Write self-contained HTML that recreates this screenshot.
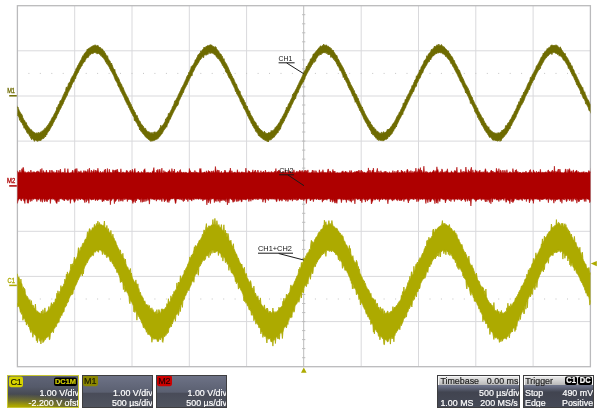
<!DOCTYPE html>
<html><head><meta charset="utf-8"><title>Oscilloscope</title>
<style>
html,body{margin:0;padding:0;background:#fff;}
body{width:600px;height:413px;position:relative;overflow:hidden;font-family:"Liberation Sans",Arial,sans-serif;}
svg text{font-family:"Liberation Sans",Arial,sans-serif;}
.p{position:absolute;top:375px;height:33px;box-sizing:border-box;border:1px solid #3e3e40;overflow:hidden;color:#fff;font-size:8.9px;line-height:10px;
background:linear-gradient(#6d7286 0%,#5b6071 52%,#494c59 56%,#50545f 100%);}
.p span{position:absolute;white-space:nowrap;transform:scaleY(1.07);transform-origin:0 80%;-webkit-text-stroke:0.2px currentColor;}
.r{right:-0.5px;}
.l{left:2px;}
.t1{top:-0.3px;}
.t2{top:11.6px;}
.t3{top:22.4px;}
.bd{height:9.8px;line-height:10px;font-size:9px;border-radius:2px;text-align:center;color:#1c1c00;}
#c1{left:7.4px;width:72px;border-color:#c9c734;background:radial-gradient(ellipse 125% 48% at 8% 106%,#b8b000 0%,#aaa400 22%,rgba(150,146,20,0.6) 55%,rgba(120,118,40,0) 100%),linear-gradient(#5f6477 0%,#555a6a 35%,#464952 60%,#44464e 100%);}
#m1{left:81.5px;width:71.6px;}
#m2{left:155.7px;width:71.8px;}
#tb{left:437.4px;width:82.8px;}
#tr{left:522.6px;width:71px;}
.hd{position:absolute;left:0;right:0;top:0;height:9.3px;background:linear-gradient(#e8e8e8,#b8b8b8);border:1px solid #f6f6f6;border-bottom:none;box-sizing:border-box;}
.q{background:linear-gradient(#6d7389 0%,#6d7389 32%,#575c6d 42%,#414450 52%,#454956 100%);}
.k{top:0.9px;height:8px;line-height:8.4px;font-size:7.6px;font-weight:bold;background:#000;color:#fff;border-radius:2px;text-align:center;}
.d{color:#1e1e1e;}
</style></head><body>
<svg width="600" height="413" viewBox="0 0 600 413" style="position:absolute;left:0;top:0">
<defs><clipPath id="gc"><rect x="17.4" y="5.7" width="573.0" height="361.0"/></clipPath></defs>
<path d="M74.7 5.7V366.7M132 5.7V366.7M189.3 5.7V366.7M246.6 5.7V366.7M361.2 5.7V366.7M418.5 5.7V366.7M475.8 5.7V366.7M533.1 5.7V366.7M17.4 50.8H590.4M17.4 96H590.4M17.4 141.1H590.4M17.4 186.2H590.4M17.4 231.3H590.4M17.4 276.4H590.4M17.4 321.6H590.4" stroke="#d9d9dc" stroke-width="1" fill="none"/>
<path d="M303.7 5.7V366.7M302.1 14.7H305.3M302.1 23.8H305.3M302.1 32.8H305.3M302.1 41.8H305.3M302.1 50.8H305.3M302.1 59.9H305.3M302.1 68.9H305.3M302.1 77.9H305.3M302.1 86.9H305.3M302.1 96H305.3M302.1 105H305.3M302.1 114H305.3M302.1 123H305.3M302.1 132H305.3M302.1 141.1H305.3M302.1 150.1H305.3M302.1 159.1H305.3M302.1 168.1H305.3M302.1 177.2H305.3M302.1 186.2H305.3M302.1 195.2H305.3M302.1 204.2H305.3M302.1 213.3H305.3M302.1 222.3H305.3M302.1 231.3H305.3M302.1 240.3H305.3M302.1 249.4H305.3M302.1 258.4H305.3M302.1 267.4H305.3M302.1 276.4H305.3M302.1 285.5H305.3M302.1 294.5H305.3M302.1 303.5H305.3M302.1 312.6H305.3M302.1 321.6H305.3M302.1 330.6H305.3M302.1 339.6H305.3M302.1 348.6H305.3M302.1 357.7H305.3" stroke="#bcbcbc" stroke-width="1" fill="none"/>
<g fill="#c4c4c4"><rect x="28.4" y="72.9" width="1" height="1"/><rect x="39.8" y="72.9" width="1" height="1"/><rect x="51.3" y="72.9" width="1" height="1"/><rect x="62.7" y="72.9" width="1" height="1"/><rect x="74.2" y="72.9" width="1" height="1"/><rect x="85.7" y="72.9" width="1" height="1"/><rect x="97.1" y="72.9" width="1" height="1"/><rect x="108.6" y="72.9" width="1" height="1"/><rect x="120" y="72.9" width="1" height="1"/><rect x="131.5" y="72.9" width="1" height="1"/><rect x="143" y="72.9" width="1" height="1"/><rect x="154.4" y="72.9" width="1" height="1"/><rect x="165.9" y="72.9" width="1" height="1"/><rect x="177.3" y="72.9" width="1" height="1"/><rect x="188.8" y="72.9" width="1" height="1"/><rect x="200.3" y="72.9" width="1" height="1"/><rect x="211.7" y="72.9" width="1" height="1"/><rect x="223.2" y="72.9" width="1" height="1"/><rect x="234.6" y="72.9" width="1" height="1"/><rect x="246.1" y="72.9" width="1" height="1"/><rect x="257.6" y="72.9" width="1" height="1"/><rect x="269" y="72.9" width="1" height="1"/><rect x="280.5" y="72.9" width="1" height="1"/><rect x="291.9" y="72.9" width="1" height="1"/><rect x="303.4" y="72.9" width="1" height="1"/><rect x="314.9" y="72.9" width="1" height="1"/><rect x="326.3" y="72.9" width="1" height="1"/><rect x="337.8" y="72.9" width="1" height="1"/><rect x="349.2" y="72.9" width="1" height="1"/><rect x="360.7" y="72.9" width="1" height="1"/><rect x="372.2" y="72.9" width="1" height="1"/><rect x="383.6" y="72.9" width="1" height="1"/><rect x="395.1" y="72.9" width="1" height="1"/><rect x="406.5" y="72.9" width="1" height="1"/><rect x="418" y="72.9" width="1" height="1"/><rect x="429.5" y="72.9" width="1" height="1"/><rect x="440.9" y="72.9" width="1" height="1"/><rect x="452.4" y="72.9" width="1" height="1"/><rect x="463.8" y="72.9" width="1" height="1"/><rect x="475.3" y="72.9" width="1" height="1"/><rect x="486.8" y="72.9" width="1" height="1"/><rect x="498.2" y="72.9" width="1" height="1"/><rect x="509.7" y="72.9" width="1" height="1"/><rect x="521.1" y="72.9" width="1" height="1"/><rect x="532.6" y="72.9" width="1" height="1"/><rect x="544.1" y="72.9" width="1" height="1"/><rect x="555.5" y="72.9" width="1" height="1"/><rect x="567" y="72.9" width="1" height="1"/><rect x="578.4" y="72.9" width="1" height="1"/><rect x="28.4" y="298.5" width="1" height="1"/><rect x="39.8" y="298.5" width="1" height="1"/><rect x="51.3" y="298.5" width="1" height="1"/><rect x="62.7" y="298.5" width="1" height="1"/><rect x="74.2" y="298.5" width="1" height="1"/><rect x="85.7" y="298.5" width="1" height="1"/><rect x="97.1" y="298.5" width="1" height="1"/><rect x="108.6" y="298.5" width="1" height="1"/><rect x="120" y="298.5" width="1" height="1"/><rect x="131.5" y="298.5" width="1" height="1"/><rect x="143" y="298.5" width="1" height="1"/><rect x="154.4" y="298.5" width="1" height="1"/><rect x="165.9" y="298.5" width="1" height="1"/><rect x="177.3" y="298.5" width="1" height="1"/><rect x="188.8" y="298.5" width="1" height="1"/><rect x="200.3" y="298.5" width="1" height="1"/><rect x="211.7" y="298.5" width="1" height="1"/><rect x="223.2" y="298.5" width="1" height="1"/><rect x="234.6" y="298.5" width="1" height="1"/><rect x="246.1" y="298.5" width="1" height="1"/><rect x="257.6" y="298.5" width="1" height="1"/><rect x="269" y="298.5" width="1" height="1"/><rect x="280.5" y="298.5" width="1" height="1"/><rect x="291.9" y="298.5" width="1" height="1"/><rect x="303.4" y="298.5" width="1" height="1"/><rect x="314.9" y="298.5" width="1" height="1"/><rect x="326.3" y="298.5" width="1" height="1"/><rect x="337.8" y="298.5" width="1" height="1"/><rect x="349.2" y="298.5" width="1" height="1"/><rect x="360.7" y="298.5" width="1" height="1"/><rect x="372.2" y="298.5" width="1" height="1"/><rect x="383.6" y="298.5" width="1" height="1"/><rect x="395.1" y="298.5" width="1" height="1"/><rect x="406.5" y="298.5" width="1" height="1"/><rect x="418" y="298.5" width="1" height="1"/><rect x="429.5" y="298.5" width="1" height="1"/><rect x="440.9" y="298.5" width="1" height="1"/><rect x="452.4" y="298.5" width="1" height="1"/><rect x="463.8" y="298.5" width="1" height="1"/><rect x="475.3" y="298.5" width="1" height="1"/><rect x="486.8" y="298.5" width="1" height="1"/><rect x="498.2" y="298.5" width="1" height="1"/><rect x="509.7" y="298.5" width="1" height="1"/><rect x="521.1" y="298.5" width="1" height="1"/><rect x="532.6" y="298.5" width="1" height="1"/><rect x="544.1" y="298.5" width="1" height="1"/><rect x="555.5" y="298.5" width="1" height="1"/><rect x="567" y="298.5" width="1" height="1"/><rect x="578.4" y="298.5" width="1" height="1"/></g>
<rect x="17.4" y="5.7" width="573" height="361" fill="none" stroke="#bababc" stroke-width="1.3"/>
<g clip-path="url(#gc)">
<polygon points="16.4 105 16.8 105.8 17.2 106.5 17.6 107.7 18 107 18.4 109.3 18.8 109.3 19.2 110.6 19.6 111.5 20 111.7 20.4 113.2 20.8 113.2 21.2 114.9 21.6 113.9 22 115.7 22.4 115.6 22.8 117.8 23.2 118.2 23.6 119.3 24 119.9 24.4 120.6 24.8 120.6 25.2 122 25.6 122.6 26 123.3 26.4 122.6 26.8 124.6 27.2 125.2 27.6 125.8 28 126.2 28.4 126.9 28.8 127.2 29.2 128 29.6 128.2 30 129.1 30.4 129.4 30.8 129.8 31.2 129.8 31.6 129.7 32 130.8 32.4 131.4 32.8 131.2 33.2 131.9 33.6 132.1 34 132.2 34.4 132.8 34.8 132.5 35.2 133 35.6 133.4 36 132.9 36.4 132.9 36.8 133.6 37.2 132.7 37.6 133.4 38 133.5 38.4 133.3 38.8 132.2 39.2 133.3 39.6 133.1 40 132.9 40.4 133 40.8 131.7 41.2 132.5 41.6 132.1 42 130.7 42.4 131 42.8 131.3 43.2 130.7 43.6 129.7 44 130.3 44.4 129.7 44.8 128.2 45.2 128.5 45.6 128.5 46 127.7 46.4 126.7 46.8 126.7 47.2 126.4 47.6 125.2 48 124.7 48.4 124.4 48.8 123.7 49.2 123.1 49.6 122.6 50 121.3 50.4 121.3 50.8 120.7 51.2 119.3 51.6 119.3 52 117.5 52.4 117.6 52.8 117 53.2 116.3 53.6 115.5 54 114.4 54.4 113.8 54.8 113.1 55.2 112.4 55.6 111.4 56 110.8 56.4 110 56.8 107.3 57.2 107.9 57.6 107.5 58 105.9 58.4 104.5 58.8 104.9 59.2 103.6 59.6 103.5 60 100.8 60.4 100.6 60.8 100.9 61.2 100.3 61.6 99.2 62 98.6 62.4 97.1 62.8 96.8 63.2 95.4 63.6 94.6 64 93.5 64.4 93.4 64.8 91.9 65.2 91.9 65.6 90.7 66 88.3 66.4 86.9 66.8 88.4 67.2 87.8 67.6 86.7 68 85.7 68.4 83.5 68.8 84.4 69.2 82.4 69.6 82.6 70 81.8 70.4 81.1 70.8 79.3 71.2 78.2 71.6 78.4 72 76.6 72.4 76.3 72.8 75.9 73.2 75.3 73.6 74.4 74 73.4 74.4 72.8 74.8 71.7 75.2 70.9 75.6 70.4 76 68.4 76.4 68.4 76.8 68 77.2 67.1 77.6 65.9 78 65 78.4 64.7 78.8 63.7 79.2 62.8 79.6 62.6 80 61.5 80.4 60.5 80.8 60.4 81.2 59.6 81.6 58.8 82 57.2 82.4 56.9 82.8 55.7 83.2 56.1 83.6 55.5 84 54.2 84.4 53.4 84.8 53.4 85.2 52.5 85.6 52.6 86 52.1 86.4 51.1 86.8 50.7 87.2 49 87.6 49.5 88 48.9 88.4 48.4 88.8 48.5 89.2 48.2 89.6 47.9 90 47.6 90.4 47.4 90.8 47.1 91.2 46.9 91.6 46.5 92 46.4 92.4 46.1 92.8 46 93.2 45.6 93.6 45.8 94 45.4 94.4 45.2 94.8 45.5 95.2 45.6 95.6 44.8 96 45.6 96.4 45.9 96.8 45.9 97.2 45.8 97.6 45.4 98 45.3 98.4 46.3 98.8 46.7 99.2 46.9 99.6 47.4 100 47 100.4 47.5 100.8 48.4 101.2 48.4 101.6 49.1 102 49.5 102.4 48.8 102.8 49.8 103.2 50.6 103.6 50.8 104 52 104.4 51.5 104.8 52.6 105.2 52.9 105.6 53.7 106 54.8 106.4 55.3 106.8 56.2 107.2 56.7 107.6 55.7 108 58.2 108.4 59 108.8 59.5 109.2 60.4 109.6 60.8 110 60.8 110.4 62.6 110.8 63.3 111.2 63.8 111.6 63 112 65.2 112.4 65.3 112.8 67 113.2 67.9 113.6 68.8 114 69.3 114.4 69.9 114.8 69.3 115.2 71.8 115.6 72.6 116 73.7 116.4 74.1 116.8 75.3 117.2 76 117.6 76.9 118 77.8 118.4 77.8 118.8 78.9 119.2 79.6 119.6 81.2 120 82 120.4 82.6 120.8 83.5 121.2 84.2 121.6 84.3 122 85.9 122.4 86.9 122.8 87.8 123.2 87.6 123.6 89 124 90.2 124.4 91.1 124.8 91.8 125.2 92.7 125.6 93.5 126 94.2 126.4 95.2 126.8 96 127.2 96.6 127.6 97.8 128 97.5 128.4 99 128.8 100 129.2 100.8 129.6 101.9 130 102.1 130.4 103.3 130.8 104.4 131.2 104.3 131.6 105.8 132 106.9 132.4 107 132.8 108.5 133.2 109.2 133.6 110.1 134 110.1 134.4 111.5 134.8 111.9 135.2 112.2 135.6 113.9 136 114.8 136.4 115.5 136.8 116.1 137.2 115.4 137.6 117.4 138 117.7 138.4 119.1 138.8 119.9 139.2 120.7 139.6 121.3 140 121.2 140.4 122.3 140.8 123.3 141.2 123.9 141.6 124.5 142 125.3 142.4 124.9 142.8 126.4 143.2 126 143.6 127.5 144 127.6 144.4 128 144.8 128.9 145.2 128.6 145.6 128.3 146 130.3 146.4 129.9 146.8 130.9 147.2 131.3 147.6 131.6 148 132 148.4 132.3 148.8 131.4 149.2 132.6 149.6 132.8 150 132.2 150.4 133.3 150.8 133.3 151.2 133.1 151.6 133.5 152 132.2 152.4 133.5 152.8 133.6 153.2 133.4 153.6 133.2 154 131.9 154.4 133.2 154.8 131.7 155.2 132.7 155.6 132.2 156 132.4 156.4 132.3 156.8 132 157.2 131.7 157.6 131.3 158 130.6 158.4 130.6 158.8 130 159.2 129.2 159.6 129 160 127.8 160.4 128.3 160.8 125.1 161.2 127 161.6 127 162 126.3 162.4 125.7 162.8 125.1 163.2 124.6 163.6 123.9 164 123.4 164.4 122.6 164.8 122 165.2 121.3 165.6 118.8 166 119.8 166.4 119 166.8 117.4 167.2 117.1 167.6 117.1 168 116.2 168.4 113.4 168.8 114.3 169.2 113.4 169.6 113.1 170 112.5 170.4 111.5 170.8 110.5 171.2 110 171.6 109.2 172 108.4 172.4 106.7 172.8 106.6 173.2 105.9 173.6 105 174 103.9 174.4 102.3 174.8 100.8 175.2 101.5 175.6 100.3 176 100.3 176.4 99 176.8 98.2 177.2 97.6 177.6 96.9 178 96 178.4 94.4 178.8 94.4 179.2 92.9 179.6 92.8 180 91.2 180.4 91.1 180.8 90 181.2 88.8 181.6 87.6 182 87.2 182.4 86.9 182.8 85.7 183.2 85.2 183.6 84.4 184 83.5 184.4 82.3 184.8 81.7 185.2 80.7 185.6 79.8 186 79.3 186.4 77.9 186.8 76.6 187.2 76.6 187.6 75.3 188 75.2 188.4 74.5 188.8 72.3 189.2 72.8 189.6 72 190 70.4 190.4 69.4 190.8 69.1 191.2 66.6 191.6 67.8 192 65.7 192.4 65.7 192.8 65.7 193.2 64.8 193.6 64.1 194 63.3 194.4 62.5 194.8 61.8 195.2 59.8 195.6 60.1 196 59.5 196.4 58.9 196.8 57.6 197.2 57.5 197.6 56.1 198 54.7 198.4 54.7 198.8 54.2 199.2 53.7 199.6 53.3 200 53.2 200.4 52.5 200.8 50.8 201.2 51.4 201.6 50.9 202 50.3 202.4 50.1 202.8 49.5 203.2 48.9 203.6 48.8 204 47 204.4 47.9 204.8 47.4 205.2 47.4 205.6 46.9 206 46.4 206.4 46.5 206.8 46 207.2 45.9 207.6 45.5 208 45.7 208.4 45.8 208.8 45.6 209.2 45.6 209.6 44.9 210 45.6 210.4 44.6 210.8 45 211.2 45.8 211.6 44.8 212 45.4 212.4 45.9 212.8 46.3 213.2 46.3 213.6 46.6 214 47 214.4 47.3 214.8 47.2 215.2 46.4 215.6 48.3 216 47.1 216.4 49.1 216.8 48.9 217.2 50 217.6 49.9 218 50.5 218.4 51.4 218.8 51.2 219.2 52.5 219.6 53.1 220 53.7 220.4 54 220.8 53.9 221.2 54.4 221.6 56 222 56.6 222.4 56.3 222.8 58.3 223.2 58.9 223.6 59.7 224 58.6 224.4 60.8 224.8 61.5 225.2 62.1 225.6 63.1 226 64.1 226.4 63.7 226.8 64.8 227.2 66.1 227.6 66.1 228 68 228.4 67.8 228.8 69.3 229.2 69.8 229.6 71.1 230 72 230.4 72.4 230.8 73.6 231.2 73.9 231.6 75.2 232 76.1 232.4 76.4 232.8 77.8 233.2 78.4 233.6 78.4 234 79.6 234.4 81 234.8 81.7 235.2 82.6 235.6 83.6 236 84.3 236.4 84 236.8 85.2 237.2 86.8 237.6 87.8 238 88.6 238.4 89.1 238.8 90.3 239.2 90.5 239.6 91.8 240 91.2 240.4 93.4 240.8 94.5 241.2 95.2 241.6 96.1 242 96.5 242.4 97.8 242.8 98.4 243.2 98.5 243.6 100 244 99.9 244.4 101.6 244.8 102.2 245.2 102.3 245.6 104.2 246 104.9 246.4 105.9 246.8 106.9 247.2 106.1 247.6 107.8 248 109.2 248.4 109.8 248.8 110.8 249.2 111.6 249.6 110.8 250 112.8 250.4 113.3 250.8 114.9 251.2 115.2 251.6 116.4 252 116.2 252.4 117.2 252.8 118 253.2 118.6 253.6 119.6 254 120.7 254.4 121 254.8 122 255.2 122.3 255.6 122.3 256 122.6 256.4 124.4 256.8 125 257.2 125.8 257.6 126.4 258 125.7 258.4 127.4 258.8 127.8 259.2 128.1 259.6 128.7 260 128.9 260.4 129.8 260.8 129.7 261.2 130.5 261.6 130.1 262 130.9 262.4 131.4 262.8 131.6 263.2 132.3 263.6 132.4 264 132 264.4 131.2 264.8 132.3 265.2 132.4 265.6 133.2 266 133.4 266.4 133 266.8 133.4 267.2 133 267.6 133.5 268 133.1 268.4 132.9 268.8 132.3 269.2 132.9 269.6 133.1 270 132.3 270.4 132.3 270.8 132.5 271.2 130.4 271.6 131.5 272 131.5 272.4 130.5 272.8 130.9 273.2 130.4 273.6 130.2 274 129.4 274.4 129.4 274.8 128.6 275.2 127.4 275.6 128 276 127.3 276.4 126.1 276.8 126.3 277.2 125.7 277.6 124.9 278 124.3 278.4 123.8 278.8 122.9 279.2 122.7 279.6 121.9 280 121.4 280.4 120.1 280.8 119.2 281.2 119.3 281.6 118.4 282 117.7 282.4 116.4 282.8 116.3 283.2 115.5 283.6 114.4 284 113.9 284.4 113 284.8 112.5 285.2 111.3 285.6 110.1 286 109.9 286.4 107.3 286.8 108.4 287.2 107.5 287.6 106.9 288 105.9 288.4 104 288.8 104 289.2 103.1 289.6 102.6 290 101.5 290.4 101 290.8 99.9 291.2 98.8 291.6 98.6 292 97.5 292.4 96.2 292.8 94.1 293.2 95.2 293.6 92.9 294 93.2 294.4 92.7 294.8 91.5 295.2 90.9 295.6 89.7 296 89.3 296.4 88.6 296.8 87.5 297.2 87 297.6 85.9 298 84.7 298.4 84.4 298.8 83.4 299.2 82.4 299.6 81.8 300 80.7 300.4 80.1 300.8 79.3 301.2 78.6 301.6 77.5 302 77 302.4 75.6 302.8 75.2 303.2 73.4 303.6 73.1 304 72 304.4 71.1 304.8 70.5 305.2 70.2 305.6 69.6 306 68.4 306.4 66.1 306.8 67.2 307.2 66 307.6 65.6 308 64.4 308.4 63.3 308.8 63.2 309.2 62.1 309.6 61.8 310 61.1 310.4 58.9 310.8 58.9 311.2 58.8 311.6 58.3 312 57.6 312.4 56.9 312.8 55.9 313.2 54 313.6 54 314 54.1 314.4 53.4 314.8 53.1 315.2 52.4 315.6 51.8 316 51.5 316.4 50.8 316.8 50.4 317.2 50.1 317.6 49.6 318 48.7 318.4 48.8 318.8 47.8 319.2 47.8 319.6 47.7 320 46.3 320.4 46 320.8 46.3 321.2 46.6 321.6 46.3 322 45.7 322.4 45.6 322.8 45.9 323.2 45.4 323.6 44.1 324 45.3 324.4 44.8 324.8 45.5 325.2 45.5 325.6 45.3 326 45.7 326.4 44.8 326.8 46 327.2 46.1 327.6 46.3 328 46.4 328.4 46.2 328.8 47.1 329.2 47 329.6 47.6 330 47.2 330.4 48.4 330.8 48.6 331.2 48.2 331.6 49.4 332 49.8 332.4 50.1 332.8 51 333.2 50.1 333.6 51.7 334 51.8 334.4 53.2 334.8 53.1 335.2 54.1 335.6 54.5 336 55.3 336.4 55.5 336.8 55.2 337.2 56.4 337.6 58.2 338 58.9 338.4 59.1 338.8 60.1 339.2 60.6 339.6 61.9 340 62.4 340.4 63.2 340.8 63.3 341.2 64.9 341.6 65 342 65.8 342.4 67.1 342.8 67.3 343.2 67.6 343.6 68.9 344 69.6 344.4 70.4 344.8 71.9 345.2 72.1 345.6 73.5 346 74.3 346.4 74.3 346.8 76 347.2 76.9 347.6 77.8 348 78 348.4 79.2 348.8 79.6 349.2 80.7 349.6 81.7 350 82.2 350.4 83.6 350.8 84.4 351.2 85 351.6 86.2 352 86.3 352.4 87.2 352.8 88.6 353.2 88.5 353.6 90.2 354 90.9 354.4 90.7 354.8 92.7 355.2 93.2 355.6 94.5 356 94 356.4 95.1 356.8 95.4 357.2 97.2 357.6 98.2 358 97.9 358.4 99 358.8 100.4 359.2 101.2 359.6 102.2 360 103.3 360.4 104.2 360.8 104.7 361.2 105.8 361.6 106.9 362 107.6 362.4 106.9 362.8 108.9 363.2 109.6 363.6 110.4 364 111 364.4 112.1 364.8 113.3 365.2 113.7 365.6 114.6 366 115.4 366.4 115.9 366.8 117.1 367.2 117.7 367.6 117.9 368 119 368.4 120 368.8 120.1 369.2 120.8 369.6 121.3 370 122.4 370.4 121.9 370.8 123.9 371.2 124.6 371.6 124.8 372 124.8 372.4 126.1 372.8 127 373.2 127.5 373.6 126.9 374 127.4 374.4 128.5 374.8 129.3 375.2 129 375.6 129.1 376 130.4 376.4 130.7 376.8 131.4 377.2 131.6 377.6 131.3 378 131.4 378.4 132.1 378.8 132.8 379.2 132.7 379.6 133.2 380 133.2 380.4 133.2 380.8 133.2 381.2 133.5 381.6 132.2 382 132.4 382.4 133.4 382.8 133.1 383.2 132.3 383.6 131.6 384 132.8 384.4 132.8 384.8 133 385.2 132.1 385.6 132.6 386 131.9 386.4 131.3 386.8 131.6 387.2 129.5 387.6 129.6 388 130.6 388.4 129 388.8 129.9 389.2 128.8 389.6 128.8 390 128.3 390.4 128 390.8 126.8 391.2 126.9 391.6 126 392 125.6 392.4 124.4 392.8 124.6 393.2 123.2 393.6 123.3 394 122.6 394.4 122 394.8 121.3 395.2 120.3 395.6 119.9 396 118.7 396.4 117.8 396.8 116.7 397.2 116.9 397.6 115.5 398 115.4 398.4 114.4 398.8 113.7 399.2 112.3 399.6 112.2 400 111.7 400.4 110.8 400.8 109.7 401.2 108.9 401.6 108.4 402 107.3 402.4 106.7 402.8 106 403.2 103.3 403.6 104.4 404 102.9 404.4 102.3 404.8 101.9 405.2 99.6 405.6 100.1 406 98.9 406.4 98.6 406.8 96.7 407.2 96.9 407.6 96.1 408 94.6 408.4 94.1 408.8 93.6 409.2 92.7 409.6 91.6 410 90.4 410.4 90 410.8 89.2 411.2 88.5 411.6 87.4 412 85.6 412.4 86.2 412.8 85.3 413.2 84.5 413.6 83.5 414 82 414.4 81.9 414.8 80 415.2 79.6 415.6 79.4 416 78.6 416.4 75.8 416.8 76.7 417.2 75.8 417.6 75.2 418 74 418.4 73.4 418.8 72.8 419.2 71.8 419.6 70 420 70.2 420.4 69.6 420.8 68.7 421.2 66.7 421.6 66.7 422 66.1 422.4 65 422.8 64.8 423.2 63.5 423.6 63.3 424 61.1 424.4 60.4 424.8 60.5 425.2 59.7 425.6 59.7 426 58.7 426.4 58.1 426.8 55.7 427.2 56.6 427.6 56.2 428 55.4 428.4 54 428.8 54.1 429.2 53.1 429.6 52.9 430 52.4 430.4 52.1 430.8 51.5 431.2 49.8 431.6 49.3 432 50 432.4 49.4 432.8 49.2 433.2 48.4 433.6 47.9 434 47.9 434.4 46.1 434.8 46.8 435.2 47 435.6 46.5 436 46.6 436.4 45.4 436.8 45.2 437.2 44.7 437.6 45.9 438 45.7 438.4 45.1 438.8 44.1 439.2 44.6 439.6 45.7 440 45.7 440.4 45.5 440.8 45.4 441.2 44.6 441.6 44.7 442 45.8 442.4 45.9 442.8 46.6 443.2 46.8 443.6 46.5 444 47.4 444.4 47.1 444.8 48.1 445.2 48.4 445.6 48.8 446 48.9 446.4 49.6 446.8 50.1 447.2 50.3 447.6 50.9 448 51.6 448.4 50.8 448.8 52.4 449.2 53 449.6 53.5 450 53.8 450.4 54.6 450.8 55.4 451.2 56.1 451.6 56.6 452 56.4 452.4 58.1 452.8 57.8 453.2 59.6 453.6 60.1 454 60.2 454.4 60.5 454.8 62.2 455.2 63.2 455.6 63.7 456 64.2 456.4 65.5 456.8 65.6 457.2 66.5 457.6 67 458 68.8 458.4 69.5 458.8 69.4 459.2 70.8 459.6 70.4 460 72.2 460.4 72.7 460.8 74.1 461.2 74.7 461.6 76.1 462 76.7 462.4 77.2 462.8 78.5 463.2 78.7 463.6 79.9 464 80.8 464.4 81.7 464.8 82.7 465.2 83.6 465.6 84.2 466 85.1 466.4 86.1 466.8 85.8 467.2 87.7 467.6 87.3 468 89.2 468.4 88.7 468.8 91.1 469.2 90.7 469.6 92.1 470 93.3 470.4 94.2 470.8 95.3 471.2 95.7 471.6 96.9 472 97 472.4 97.4 472.8 99.5 473.2 100 473.6 101 474 101.7 474.4 102.7 474.8 103.6 475.2 104.4 475.6 105.2 476 105.2 476.4 106.7 476.8 107.4 477.2 108.5 477.6 107.9 478 110.1 478.4 110.9 478.8 111.4 479.2 112.2 479.6 112.6 480 114 480.4 114.7 480.8 114.6 481.2 115.9 481.6 116.8 482 117.8 482.4 117.7 482.8 118.8 483.2 118.4 483.6 120.3 484 120.5 484.4 121.4 484.8 122.7 485.2 123.1 485.6 123.1 486 124.5 486.4 125.1 486.8 125.9 487.2 125.9 487.6 126.9 488 127.5 488.4 127.8 488.8 126.7 489.2 128.9 489.6 129.5 490 129.9 490.4 129.9 490.8 130.2 491.2 130.9 491.6 131 492 131.7 492.4 131.7 492.8 132.3 493.2 132.5 493.6 132.8 494 132.4 494.4 133.2 494.8 133.1 495.2 133.3 495.6 133.4 496 132.8 496.4 133.3 496.8 133.7 497.2 133.5 497.6 133.5 498 132.6 498.4 133.2 498.8 132.8 499.2 133.2 499.6 133 500 132.7 500.4 132 500.8 131.9 501.2 131.8 501.6 131.7 502 130 502.4 131.1 502.8 130.4 503.2 129.6 503.6 129.8 504 129.5 504.4 129 504.8 128.5 505.2 127.9 505.6 125.6 506 125.9 506.4 125.5 506.8 125.7 507.2 125.1 507.6 123.4 508 122.9 508.4 123.3 508.8 122.2 509.2 121.7 509.6 121.3 510 119.7 510.4 119.5 510.8 119.3 511.2 118.6 511.6 117.4 512 116.7 512.4 115.3 512.8 115.5 513.2 114.2 513.6 113.9 514 113.3 514.4 111.5 514.8 111.6 515.2 110.9 515.6 109.7 516 109.1 516.4 108.1 516.8 107.6 517.2 105.3 517.6 105 518 105.1 518.4 104 518.8 101.7 519.2 102.4 519.6 101.7 520 100.6 520.4 98.3 520.8 99.4 521.2 98.6 521.6 97.5 522 95.6 522.4 96.1 522.8 94.9 523.2 94.3 523.6 92.1 524 92.6 524.4 92 524.8 90.9 525.2 89.8 525.6 89.2 526 88.5 526.4 87.4 526.8 86.8 527.2 85.2 527.6 85 528 83.5 528.4 82.8 528.8 82.3 529.2 81.9 529.6 80.6 530 80.1 530.4 77.3 530.8 77.3 531.2 77.8 531.6 77 532 75.5 532.4 74.5 532.8 73.9 533.2 73.5 533.6 72.7 534 72 534.4 71.1 534.8 70.3 535.2 69.4 535.6 68.8 536 67.4 536.4 65.8 536.8 65.8 537.2 65.5 537.6 64.6 538 64.1 538.4 63.1 538.8 62.6 539.2 61.6 539.6 60.7 540 60.3 540.4 58.8 540.8 58.8 541.2 57 541.6 57.2 542 56.9 542.4 55.5 542.8 55.6 543.2 53.2 543.6 54.2 544 52.8 544.4 53 544.8 51.5 545.2 51.5 545.6 51.4 546 50.9 546.4 50.1 546.8 49.9 547.2 48.5 547.6 49.1 548 48.7 548.4 48.1 548.8 47.5 549.2 47.7 549.6 47.3 550 46.9 550.4 46.4 550.8 45.5 551.2 45.2 551.6 45.9 552 44.8 552.4 46 552.8 45.6 553.2 45.7 553.6 45.1 554 45.6 554.4 45.6 554.8 45.3 555.2 45.4 555.6 45.8 556 44.7 556.4 45.9 556.8 45.4 557.2 46.1 557.6 45.7 558 46.7 558.4 46.9 558.8 47.3 559.2 47.4 559.6 47.9 560 48.4 560.4 46.8 560.8 49.1 561.2 48.7 561.6 49.8 562 50.1 562.4 50.7 562.8 51.4 563.2 52 563.6 52.6 564 52.9 564.4 53.4 564.8 53.7 565.2 53.3 565.6 55.4 566 56 566.4 56.6 566.8 57.2 567.2 58.2 567.6 57.9 568 59.5 568.4 59.8 568.8 60.2 569.2 61.7 569.6 62.2 570 63 570.4 63 570.8 64.5 571.2 65.4 571.6 66.5 572 65.7 572.4 66.9 572.8 68.8 573.2 69.6 573.6 69.5 574 70.3 574.4 72 574.8 72.9 575.2 73.5 575.6 74.1 576 74.6 576.4 75.9 576.8 76.6 577.2 77.3 577.6 78.4 578 79.1 578.4 80 578.8 80.5 579.2 82 579.6 82.6 580 83.6 580.4 84.1 580.8 84.8 581.2 85.5 581.6 86.8 582 86.7 582.4 88.5 582.8 87.5 583.2 89.8 583.6 90.3 584 91.7 584.4 92.5 584.8 91.8 585.2 93.9 585.6 95.1 586 95.6 586.4 96.9 586.8 97.6 587.2 98.6 587.6 99.1 588 100.2 588.4 100.2 588.8 101 589.2 102.3 589.6 103 590 104.3 590.4 104.4 590.8 105.4 591.2 106.7 591.2 113.6 590.8 112.8 590.4 112 590 111.1 589.6 110.2 589.2 110.7 588.8 109.9 588.4 107.9 588 107 587.6 106.3 587.2 105.6 586.8 104.9 586.4 103.6 586 103.9 585.6 103.9 585.2 101.2 584.8 100.5 584.4 99.5 584 98.9 583.6 98.4 583.2 98.4 582.8 96.9 582.4 95.7 582 95.2 581.6 93.7 581.2 93.1 580.8 93.9 580.4 91.1 580 90.5 579.6 89.5 579.2 88.6 578.8 88 578.4 87.4 578 86.7 577.6 85.4 577.2 84.9 576.8 85 576.4 83.9 576 82.1 575.6 81.9 575.2 80.6 574.8 80.1 574.4 79.3 574 77.9 573.6 77.1 573.2 76.4 572.8 76.1 572.4 75.6 572 73.9 571.6 73.9 571.2 72.4 570.8 72.2 570.4 71 570 70.3 569.6 69.4 569.2 68.6 568.8 67.9 568.4 68.5 568 66.7 567.6 65.6 567.2 65 566.8 64.4 566.4 63.8 566 63 565.6 62.4 565.2 61.6 564.8 61.2 564.4 60.7 564 60.2 563.6 60.2 563.2 59.7 562.8 58.8 562.4 57.7 562 57.6 561.6 56.9 561.2 56.4 560.8 56.4 560.4 55.4 560 55.4 559.6 54.7 559.2 56.2 558.8 54.2 558.4 54.2 558 53.7 557.6 54.7 557.2 54.1 556.8 53.1 556.4 53.5 556 53.5 555.6 53 555.2 53.3 554.8 52.6 554.4 52.5 554 52.5 553.6 52.4 553.2 52.8 552.8 52.8 552.4 52.8 552 54.6 551.6 54.2 551.2 53.6 550.8 53.6 550.4 53.7 550 53.8 549.6 54.2 549.2 54.6 548.8 55 548.4 55.7 548 55.8 547.6 56.3 547.2 56.3 546.8 56.8 546.4 57.8 546 58 545.6 58.3 545.2 58.7 544.8 59.5 544.4 60.1 544 60.6 543.6 61.8 543.2 62 542.8 63 542.4 63.2 542 64.6 541.6 65.4 541.2 65.1 540.8 66.1 540.4 68.6 540 67.4 539.6 67.8 539.2 70 538.8 69.4 538.4 70.5 538 71.1 537.6 71.9 537.2 72.5 536.8 73.4 536.4 74.1 536 74.9 535.6 75.7 535.2 76.8 534.8 77.4 534.4 79.4 534 78.8 533.6 80.3 533.2 80.7 532.8 81.2 532.4 82.6 532 83 531.6 83.7 531.2 84.8 530.8 85.7 530.4 86.1 530 87.8 529.6 88.9 529.2 89.9 528.8 89.5 528.4 90.3 528 91.9 527.6 92.8 527.2 93.4 526.8 94.2 526.4 94.5 526 95.7 525.6 96.1 525.2 96.9 524.8 98.4 524.4 99.5 524 100.6 523.6 101 523.2 102.3 522.8 103.1 522.4 102.8 522 104.7 521.6 104.5 521.2 105.3 520.8 106.1 520.4 107.4 520 107.8 519.6 108.7 519.2 109.7 518.8 110.4 518.4 111.1 518 112 517.6 113.4 517.2 113.5 516.8 114.8 516.4 115.2 516 117.2 515.6 117.6 515.2 118.5 514.8 118.5 514.4 120 514 120.3 513.6 120.9 513.2 121.8 512.8 122.5 512.4 123.1 512 124.1 511.6 125.5 511.2 125.4 510.8 126.2 510.4 126.9 510 129 509.6 128.7 509.2 128.8 508.8 129.7 508.4 130.8 508 131.4 507.6 131.7 507.2 132.7 506.8 133.1 506.4 134 506 133.7 505.6 134.8 505.2 135.3 504.8 135.6 504.4 136.3 504 136.9 503.6 136.6 503.2 137.8 502.8 137.7 502.4 137.9 502 138.7 501.6 139.3 501.2 140.7 500.8 139 500.4 140.9 500 141.4 499.6 139.7 499.2 139.9 498.8 140.8 498.4 140.9 498 140.3 497.6 141.1 497.2 141.2 496.8 140.4 496.4 140.5 496 141 495.6 140.3 495.2 140.2 494.8 140.4 494.4 139.9 494 139.7 493.6 139.8 493.2 140.5 492.8 139 492.4 139.8 492 138.6 491.6 138.5 491.2 137.8 490.8 137.4 490.4 137.1 490 137.3 489.6 137.5 489.2 136.9 488.8 135.9 488.4 134.9 488 134.9 487.6 133.8 487.2 133.1 486.8 133.1 486.4 132.6 486 131.9 485.6 130.7 485.2 130.6 484.8 130.5 484.4 128.8 484 128.8 483.6 127.7 483.2 127.1 482.8 126 482.4 125.7 482 124.7 481.6 125 481.2 123.4 480.8 122.8 480.4 122.2 480 120.7 479.6 120.5 479.2 119.3 478.8 119.5 478.4 117.5 478 116.9 477.6 117.5 477.2 115.2 476.8 114.4 476.4 113.9 476 113.6 475.6 112.9 475.2 111.5 474.8 111.7 474.4 109.5 474 108.7 473.6 107.8 473.2 107 472.8 106.1 472.4 105.3 472 104.7 471.6 103.8 471.2 103 470.8 103.1 470.4 103.5 470 100.3 469.6 100.1 469.2 98.9 468.8 97.8 468.4 97.1 468 96.1 467.6 95.5 467.2 94.5 466.8 93.9 466.4 93.2 466 92.4 465.6 93 465.2 90.9 464.8 89.6 464.4 89 464 87.9 463.6 87 463.2 87 462.8 85.4 462.4 85.1 462 83.6 461.6 83 461.2 82.5 460.8 81.5 460.4 81.4 460 80.8 459.6 79 459.2 78.5 458.8 77.1 458.4 77.1 458 76.1 457.6 74.8 457.2 74.4 456.8 73.2 456.4 73 456 72 455.6 71.4 455.2 70.6 454.8 69.9 454.4 68.8 454 68.2 453.6 67.2 453.2 66.4 452.8 66.4 452.4 65 452 64.5 451.6 63.6 451.2 63.5 450.8 63.6 450.4 62.3 450 61.3 449.6 60.4 449.2 59.9 448.8 59.5 448.4 59.2 448 59.1 447.6 57.7 447.2 57.9 446.8 56.8 446.4 56.5 446 56.2 445.6 56.7 445.2 55.4 444.8 54.9 444.4 54.7 444 54.3 443.6 53.8 443.2 54.3 442.8 53.3 442.4 53.6 442 52.9 441.6 52.8 441.2 52.7 440.8 52.9 440.4 52.8 440 52.4 439.6 52.5 439.2 52.5 438.8 52.9 438.4 52.9 438 52.7 437.6 52.8 437.2 52.8 436.8 53.7 436.4 53.5 436 53.9 435.6 53.6 435.2 54 434.8 54.9 434.4 54.6 434 55.1 433.6 56 433.2 55.7 432.8 55.9 432.4 56.4 432 56.8 431.6 58 431.2 57.7 430.8 59.8 430.4 59 430 59.6 429.6 60 429.2 62 428.8 61.6 428.4 61.8 428 62.4 427.6 63.2 427.2 63.6 426.8 64.9 426.4 65.2 426 66 425.6 66.6 425.2 67.4 424.8 67.9 424.4 68.5 424 69.2 423.6 70 423.2 71.2 422.8 72.9 422.4 72.3 422 73.6 421.6 74.1 421.2 75 420.8 75.7 420.4 77.4 420 77.4 419.6 78.6 419.2 79.1 418.8 79.6 418.4 81.1 418 81.6 417.6 82.2 417.2 83.1 416.8 83.7 416.4 86.4 416 85.7 415.6 86.4 415.2 87.3 414.8 87.9 414.4 88.9 414 90.5 413.6 91.8 413.2 91.1 412.8 92.2 412.4 93.5 412 93.6 411.6 94.8 411.2 95.5 410.8 96.2 410.4 97.1 410 97.9 409.6 99 409.2 99.7 408.8 100.6 408.4 101.4 408 102.1 407.6 103 407.2 103.8 406.8 104.9 406.4 105.3 406 106.4 405.6 107.9 405.2 107.8 404.8 109.1 404.4 109.9 404 110.8 403.6 111.6 403.2 112.1 402.8 114.5 402.4 114.1 402 115 401.6 115.5 401.2 116.2 400.8 117.2 400.4 117.9 400 118.5 399.6 119.2 399.2 120.1 398.8 120.8 398.4 122 398 122.6 397.6 123.7 397.2 123.9 396.8 124.9 396.4 127 396 126.1 395.6 127.3 395.2 128.3 394.8 128.4 394.4 129.2 394 129.5 393.6 131.1 393.2 130.7 392.8 132.3 392.4 132.1 392 133.8 391.6 133.1 391.2 134.4 390.8 135.1 390.4 134.9 390 135.5 389.6 136.4 389.2 137 388.8 136.6 388.4 137 388 137.4 387.6 138.7 387.2 138.3 386.8 139.1 386.4 139.4 386 139.3 385.6 139.2 385.2 139.5 384.8 140.1 384.4 139.9 384 140 383.6 140.7 383.2 141.1 382.8 140.3 382.4 140.6 382 140.4 381.6 140.6 381.2 140.4 380.8 140.4 380.4 140.6 380 140.2 379.6 139.8 379.2 139.9 378.8 140.6 378.4 139.8 378 139.5 377.6 139.6 377.2 139.8 376.8 138.1 376.4 137.9 376 138.3 375.6 137.6 375.2 137.2 374.8 136.3 374.4 136.3 374 135.2 373.6 134.7 373.2 134.9 372.8 135 372.4 133.1 372 133.3 371.6 133.9 371.2 131.7 370.8 131.2 370.4 130.2 370 129.8 369.6 129.4 369.2 128.1 368.8 127.8 368.4 126.8 368 126.1 367.6 126.2 367.2 124.6 366.8 124 366.4 123.2 366 122.5 365.6 122.3 365.2 121.4 364.8 120.4 364.4 119.6 364 119.5 363.6 118.3 363.2 117.3 362.8 116.1 362.4 115.5 362 114.8 361.6 113.6 361.2 113 360.8 112.1 360.4 111.1 360 110.7 359.6 110.4 359.2 108.6 358.8 107.8 358.4 107.7 358 106.2 357.6 105.7 357.2 104.6 356.8 103.9 356.4 102.8 356 102 355.6 101.2 355.2 102.3 354.8 99.7 354.4 99.7 354 98 353.6 97 353.2 96.2 352.8 95.4 352.4 95.7 352 93.6 351.6 93.4 351.2 92.1 350.8 91.2 350.4 90.5 350 89.8 349.6 89.5 349.2 88.1 348.8 87.9 348.4 86.7 348 86 347.6 84.7 347.2 83.6 346.8 82.8 346.4 82.2 346 81.4 345.6 80.4 345.2 79.6 344.8 80 344.4 77.9 344 77.2 343.6 76.4 343.2 77.5 342.8 75.1 342.4 74.6 342 73.2 341.6 72.4 341.2 71.6 340.8 70.8 340.4 70.1 340 70.6 339.6 69.1 339.2 68.1 338.8 67.3 338.4 66.6 338 65.7 337.6 66 337.2 64.3 336.8 64.2 336.4 63 336 62.2 335.6 61.7 335.2 61.3 334.8 60.9 334.4 59.8 334 59.3 333.6 59.4 333.2 58.4 332.8 57.7 332.4 57.9 332 57 331.6 56.8 331.2 56.5 330.8 57.4 330.4 55.1 330 54.8 329.6 54.6 329.2 54.1 328.8 54.9 328.4 53.6 328 54.7 327.6 53.2 327.2 53 326.8 53.7 326.4 52.8 326 52.5 325.6 52.6 325.2 53.2 324.8 52.5 324.4 52.5 324 53 323.6 52.4 323.2 52.7 322.8 53.4 322.4 53 322 53 321.6 53.2 321.2 54.6 320.8 55 320.4 54.2 320 54.5 319.6 54.6 319.2 55.4 318.8 55.1 318.4 55.6 318 56.1 317.6 56.9 317.2 57 316.8 58.2 316.4 58.3 316 58.2 315.6 61.4 315.2 59.5 314.8 60.1 314.4 62.4 314 61 313.6 61.7 313.2 62.9 312.8 63.8 312.4 64.1 312 65 311.6 64.9 311.2 66.6 310.8 66.7 310.4 67.8 310 68.1 309.6 69.2 309.2 69.9 308.8 70.6 308.4 71 308 71.8 307.6 72.8 307.2 73.1 306.8 74 306.4 74.9 306 75.7 305.6 76.4 305.2 77.1 304.8 79.3 304.4 79.7 304 79.9 303.6 82.1 303.2 81.4 302.8 82.7 302.4 82.8 302 84.2 301.6 84.8 301.2 85.3 300.8 86.1 300.4 87.3 300 87.9 299.6 88.7 299.2 89.4 298.8 90.3 298.4 92.2 298 92 297.6 93.2 297.2 93.6 296.8 94.5 296.4 95.6 296 96.5 295.6 98.8 295.2 98.1 294.8 98.8 294.4 100 294 100.3 293.6 101.2 293.2 102 292.8 103 292.4 104 292 104.6 291.6 105.3 291.2 106.1 290.8 107.7 290.4 108.1 290 108.6 289.6 110.3 289.2 110.5 288.8 111.3 288.4 112.5 288 112.7 287.6 113.5 287.2 114.6 286.8 115.5 286.4 116.7 286 117.1 285.6 118.1 285.2 118.4 284.8 119.1 284.4 120.9 284 121 283.6 121.8 283.2 122.9 282.8 123.3 282.4 124.1 282 124.6 281.6 125.4 281.2 126.4 280.8 127.6 280.4 129.2 280 128.4 279.6 130.2 279.2 130.3 278.8 130.2 278.4 131.5 278 132.8 277.6 132 277.2 133.2 276.8 133.2 276.4 134.2 276 134.2 275.6 135.3 275.2 135.3 274.8 135.8 274.4 137.1 274 137.3 273.6 137 273.2 137.7 272.8 138.2 272.4 138.2 272 138.5 271.6 138.8 271.2 139.7 270.8 139.6 270.4 140.1 270 139.9 269.6 139.8 269.2 140.2 268.8 140.7 268.4 141.9 268 140.7 267.6 141.6 267.2 140.8 266.8 141.3 266.4 140.5 266 140.4 265.6 140.3 265.2 140.7 264.8 140.1 264.4 139.8 264 139.8 263.6 139.3 263.2 139.6 262.8 138.7 262.4 138.6 262 138.1 261.6 137.8 261.2 137.7 260.8 137.5 260.4 137.1 260 136.2 259.6 136 259.2 136.2 258.8 135.3 258.4 135.6 258 133.9 257.6 133.3 257.2 132.6 256.8 132.5 256.4 131.3 256 130.9 255.6 131.4 255.2 129.6 254.8 128.8 254.4 128.6 254 128.1 253.6 126.9 253.2 126.3 252.8 126.1 252.4 124.9 252 123.8 251.6 123 251.2 123.4 250.8 121.7 250.4 120.8 250 120.6 249.6 119.6 249.2 119.1 248.8 117.9 248.4 117 248 116.2 247.6 115.9 247.2 114.6 246.8 113.8 246.4 113.1 246 111.9 245.6 111.3 245.2 110.3 244.8 109.8 244.4 108.7 244 108.7 243.6 108 243.2 106.3 242.8 105.4 242.4 104.9 242 104.2 241.6 103.5 241.2 102.5 240.8 101.3 240.4 101.6 240 99.8 239.6 98.7 239.2 98.1 238.8 97 238.4 96.4 238 95.6 237.6 95.2 237.2 93.7 236.8 94.1 236.4 92 236 91.2 235.6 91.7 235.2 90.5 234.8 88.6 234.4 88.2 234 87.1 233.6 86.3 233.2 85.5 232.8 84.6 232.4 84.3 232 83 231.6 82.1 231.2 81.3 230.8 80.5 230.4 79.6 230 79 229.6 77.9 229.2 77.9 228.8 77.4 228.4 76 228 75.6 227.6 74.2 227.2 73.5 226.8 72.3 226.4 72.9 226 70.9 225.6 71.6 225.2 69.5 224.8 68.8 224.4 68.1 224 67.9 223.6 67.1 223.2 65.8 222.8 64.9 222.4 65.5 222 63.7 221.6 63.5 221.2 62.9 220.8 61.7 220.4 61.3 220 61.3 219.6 60.1 219.2 59.5 218.8 58.8 218.4 58.8 218 59 217.6 58.2 217.2 57.1 216.8 57 216.4 57.2 216 55.8 215.6 55.1 215.2 55 214.8 54.8 214.4 54.8 214 54.3 213.6 53.7 213.2 53.5 212.8 53.4 212.4 53.1 212 53.3 211.6 53.1 211.2 52.7 210.8 53.3 210.4 52.6 210 53.7 209.6 52.7 209.2 52.4 208.8 52.6 208.4 52.7 208 54.4 207.6 52.7 207.2 54.5 206.8 54.6 206.4 54 206 55.4 205.6 54 205.2 54.2 204.8 55 204.4 55.1 204 55.5 203.6 57.8 203.2 56.5 202.8 56.5 202.4 57.1 202 57.2 201.6 58 201.2 58.8 200.8 59 200.4 59.7 200 59.9 199.6 60.4 199.2 61.2 198.8 62.2 198.4 62.9 198 63.1 197.6 64.4 197.2 64.6 196.8 65.1 196.4 65.9 196 66.4 195.6 67.1 195.2 67.8 194.8 68.5 194.4 69.8 194 70.4 193.6 71.4 193.2 71.6 192.8 72.5 192.4 73.6 192 75.9 191.6 75.2 191.2 75.7 190.8 76.5 190.4 77.3 190 78.2 189.6 78.9 189.2 79.6 188.8 80.9 188.4 81.3 188 82.4 187.6 83.1 187.2 84.5 186.8 85 186.4 85.6 186 86.6 185.6 87.1 185.2 87.9 184.8 88.7 184.4 89.5 184 90.4 183.6 92 183.2 92.9 182.8 92.8 182.4 93.8 182 95.3 181.6 95.3 181.2 96.8 180.8 97.2 180.4 98.2 180 98.9 179.6 100 179.2 100.6 178.8 101.6 178.4 103.9 178 104.8 177.6 105.6 177.2 104.8 176.8 106.4 176.4 106.3 176 107.4 175.6 108.1 175.2 109 174.8 109.8 174.4 110.3 174 111.2 173.6 112 173.2 112.7 172.8 113.6 172.4 114.5 172 115.2 171.6 116.3 171.2 116.9 170.8 117.7 170.4 119.1 170 119.2 169.6 120 169.2 120.7 168.8 122.2 168.4 123 168 123 167.6 123.9 167.2 125 166.8 127.2 166.4 126.4 166 126.9 165.6 128.3 165.2 128.1 164.8 128.8 164.4 129.7 164 130.1 163.6 130.7 163.2 131.4 162.8 132.3 162.4 133.1 162 133.9 161.6 133.9 161.2 134.2 160.8 135.3 160.4 135.4 160 135.7 159.6 137 159.2 136.6 158.8 137.5 158.4 138.2 158 138.3 157.6 138.8 157.2 139.3 156.8 139.4 156.4 139 156 139.5 155.6 139.6 155.2 139.9 154.8 139.9 154.4 140.5 154 140.3 153.6 140.5 153.2 140.6 152.8 141.2 152.4 140.4 152 140.6 151.6 141.2 151.2 140.4 150.8 141.4 150.4 140.4 150 140 149.6 140.4 149.2 139.8 148.8 139.4 148.4 139.5 148 138.9 147.6 138.5 147.2 138.2 146.8 137.8 146.4 137.8 146 137.5 145.6 137.1 145.2 136.5 144.8 135.8 144.4 135.4 144 134.8 143.6 134.3 143.2 133.9 142.8 133.6 142.4 133.2 142 132.1 141.6 131.9 141.2 130.8 140.8 131.2 140.4 130 140 128.9 139.6 130 139.2 127.5 138.8 126.7 138.4 126.2 138 126.2 137.6 124.7 137.2 123.8 136.8 123.2 136.4 122.6 136 122.1 135.6 120.9 135.2 120.9 134.8 119.2 134.4 120.7 134 117.6 133.6 116.8 133.2 116 132.8 115.6 132.4 114.4 132 113.9 131.6 112.8 131.2 112.7 130.8 111.6 130.4 110.6 130 110.1 129.6 108.7 129.2 107.8 128.8 107.7 128.4 106.6 128 105.3 127.6 105 127.2 104.6 126.8 102.9 126.4 102.7 126 102.3 125.6 100.3 125.2 100.6 124.8 99.6 124.4 98.2 124 97.5 123.6 96.4 123.2 95.8 122.8 95 122.4 93.7 122 93.7 121.6 92.7 121.2 91.3 120.8 91.5 120.4 90.6 120 89.4 119.6 87.9 119.2 87.3 118.8 87.2 118.4 86 118 86 117.6 83.8 117.2 83.3 116.8 82.2 116.4 81.3 116 81.4 115.6 80.6 115.2 79.8 114.8 78.7 114.4 77.7 114 76.5 113.6 75.5 113.2 74.8 112.8 74 112.4 73.4 112 72.5 111.6 72 111.2 70.8 110.8 70.8 110.4 69.4 110 69.3 109.6 68.1 109.2 67.1 108.8 66.5 108.4 66 108 65.3 107.6 64.8 107.2 63.6 106.8 63.9 106.4 63 106 61.7 105.6 62 105.2 60.9 104.8 60 104.4 59.6 104 58.9 103.6 58.2 103.2 57.8 102.8 57.2 102.4 57.3 102 56.9 101.6 56.1 101.2 55.6 100.8 55.8 100.4 55.1 100 54.4 99.6 54.3 99.2 54 98.8 53.5 98.4 53.3 98 53.8 97.6 53.6 97.2 54.1 96.8 53.1 96.4 53.3 96 52.5 95.6 52.8 95.2 52.5 94.8 52.9 94.4 52.3 94 52.5 93.6 53.2 93.2 52.9 92.8 53.8 92.4 53.6 92 53.1 91.6 53.7 91.2 53.6 90.8 54.2 90.4 54.7 90 54.4 89.6 54.8 89.2 55.7 88.8 56.2 88.4 57.3 88 57.1 87.6 57.8 87.2 57.5 86.8 57.9 86.4 58.3 86 58.8 85.6 59.9 85.2 60.2 84.8 61.9 84.4 61 84 61.7 83.6 63 83.2 63.1 82.8 63.7 82.4 64.4 82 66 81.6 66.1 81.2 66.5 80.8 67.6 80.4 67.9 80 69 79.6 69.3 79.2 70.2 78.8 70.9 78.4 72.3 78 73 77.6 73.1 77.2 74 76.8 75 76.4 75.8 76 76.4 75.6 78.8 75.2 78.3 74.8 78.8 74.4 80.5 74 81.7 73.6 81.4 73.2 82.5 72.8 82.8 72.4 83.7 72 84.7 71.6 85.4 71.2 87.2 70.8 87 70.4 88.4 70 89.3 69.6 89.9 69.2 90.6 68.8 91.5 68.4 92 68 92.8 67.6 94 67.2 95.5 66.8 95.4 66.4 96.7 66 97.5 65.6 98.1 65.2 99.1 64.8 99.9 64.4 100.3 64 101.7 63.6 102.2 63.2 103.8 62.8 103.9 62.4 105.3 62 105.3 61.6 106.3 61.2 107.7 60.8 108 60.4 109.2 60 109.4 59.6 110.3 59.2 111.4 58.8 112 58.4 113 58 114 57.6 114.4 57.2 115.2 56.8 116 56.4 117.9 56 118.3 55.6 118.8 55.2 119.6 54.8 120.2 54.4 120.8 54 122.1 53.6 122.4 53.2 123 52.8 124.2 52.4 125.5 52 125.5 51.6 126.2 51.2 127 50.8 127.7 50.4 128.4 50 129.1 49.6 130.4 49.2 130.4 48.8 131.3 48.4 131.3 48 132.4 47.6 132.6 47.2 133.2 46.8 135 46.4 134.2 46 134.9 45.6 137 45.2 136.1 44.8 136.6 44.4 137.5 44 137.4 43.6 138.6 43.2 138 42.8 138.6 42.4 139 42 138.8 41.6 139.5 41.2 139.2 40.8 140.8 40.4 140 40 139.8 39.6 140.8 39.2 140.3 38.8 140.3 38.4 141.1 38 140.5 37.6 141.4 37.2 140.8 36.8 140.7 36.4 140.7 36 140.5 35.6 140.3 35.2 139.9 34.8 140.2 34.4 141.4 34 139.6 33.6 139.9 33.2 139.7 32.8 139.1 32.4 138.7 32 137.9 31.6 139.7 31.2 137.4 30.8 138.3 30.4 136.5 30 135.9 29.6 136.3 29.2 135 28.8 134.2 28.4 133.8 28 133.1 27.6 133.5 27.2 132.5 26.8 132.4 26.4 131.1 26 130.2 25.6 129.4 25.2 129.4 24.8 128.1 24.4 127.5 24 128.2 23.6 126 23.2 125.3 22.8 125.2 22.4 123.8 22 123 21.6 122.3 21.2 122.6 20.8 122.1 20.4 120.6 20 119.3 19.6 120.3 19.2 117.9 18.8 117 18.4 116 18 115.6 17.6 116 17.2 113.5 16.8 112.8 16.4 113" fill="#6e6b00" stroke="#6e6b00" stroke-width="0.8" stroke-linejoin="round"/>
<polygon points="16.4 172.2 16.9 171.9 17.4 170.7 17.9 172.8 18.4 172.7 18.9 171.7 19.4 173 19.9 170 20.4 172.4 20.9 172.1 21.4 172.6 21.9 168.7 22.4 171.6 22.9 167.6 23.4 167.6 23.9 170.9 24.4 171.9 24.9 172.6 25.4 171.7 25.9 172.9 26.4 172.7 26.9 172.7 27.4 172.1 27.9 172.4 28.4 171.6 28.9 173 29.4 171.9 29.9 172.9 30.4 172.7 30.9 170 31.4 172.5 31.9 172.6 32.4 172.4 32.9 171.8 33.4 171.8 33.9 172.6 34.4 171.8 34.9 172.2 35.4 172.8 35.9 172.2 36.4 171.9 36.9 171.4 37.4 172.4 37.9 170.8 38.4 172 38.9 172.1 39.4 172.2 39.9 172.5 40.4 169.3 40.9 172.7 41.4 172.6 41.9 168.4 42.4 172.9 42.9 172.9 43.4 170.5 43.9 172.2 44.4 172.3 44.9 172.7 45.4 172.2 45.9 172.6 46.4 170.1 46.9 172.3 47.4 172.6 47.9 172.7 48.4 172.5 48.9 173 49.4 171.8 49.9 170 50.4 172.2 50.9 172.7 51.4 172.4 51.9 170 52.4 171.2 52.9 172.6 53.4 172.5 53.9 171.5 54.4 172.9 54.9 172.7 55.4 172.5 55.9 172.9 56.4 171.6 56.9 170 57.4 172.8 57.9 172.9 58.4 172.2 58.9 170.3 59.4 171.9 59.9 172.7 60.4 169 60.9 172.4 61.4 172.8 61.9 172.4 62.4 171.9 62.9 172.9 63.4 172.3 63.9 172.7 64.4 173 64.9 168.4 65.4 172.9 65.9 172.7 66.4 172.9 66.9 172.5 67.4 172.3 67.9 168.7 68.4 173 68.9 172.6 69.4 172.9 69.9 172.9 70.4 172.7 70.9 172.6 71.4 172.5 71.9 172.7 72.4 170.6 72.9 170.1 73.4 172.7 73.9 172.8 74.4 172.5 74.9 169.4 75.4 170.9 75.9 168.6 76.4 173 76.9 168.5 77.4 172.6 77.9 172.9 78.4 171.4 78.9 172.5 79.4 172 79.9 171.6 80.4 172.9 80.9 170.7 81.4 172.3 81.9 173 82.4 172.9 82.9 172.4 83.4 172.3 83.9 170.5 84.4 171.7 84.9 172.8 85.4 170.7 85.9 171.4 86.4 172.6 86.9 171.6 87.4 172.8 87.9 169.3 88.4 172.5 88.9 172.4 89.4 168.1 89.9 172.5 90.4 172.7 90.9 171.9 91.4 170 91.9 172.6 92.4 173 92.9 171.2 93.4 172.1 93.9 169.6 94.4 172.6 94.9 172.6 95.4 170 95.9 172.1 96.4 172.3 96.9 170.4 97.4 172 97.9 168.2 98.4 171.2 98.9 172.2 99.4 172.8 99.9 173 100.4 171.2 100.9 172.9 101.4 172.6 101.9 172.8 102.4 172.2 102.9 171.6 103.4 172.6 103.9 172.7 104.4 169.8 104.9 172.8 105.4 169 105.9 172.7 106.4 172.8 106.9 172.9 107.4 168.5 107.9 171.7 108.4 172.2 108.9 172.8 109.4 169.2 109.9 172.9 110.4 172.5 110.9 172 111.4 172.7 111.9 172.7 112.4 172.3 112.9 169.7 113.4 172.9 113.9 170 114.4 172.9 114.9 170.4 115.4 170.3 115.9 170.2 116.4 169.8 116.9 172.3 117.4 169.2 117.9 171.6 118.4 171.9 118.9 172.6 119.4 172.6 119.9 172.1 120.4 172.9 120.9 168.8 121.4 172.9 121.9 173 122.4 171.9 122.9 172.4 123.4 172.2 123.9 172.3 124.4 172.8 124.9 172.5 125.4 172.6 125.9 173 126.4 170.3 126.9 170.9 127.4 170.8 127.9 172.9 128.4 171.9 128.9 172.7 129.4 172.7 129.9 170.8 130.4 170.3 130.9 171.9 131.4 172.6 131.9 171.3 132.4 169.2 132.9 171.6 133.4 172.9 133.9 172.8 134.4 170 134.9 168.5 135.4 171.9 135.9 172.4 136.4 172.8 136.9 172.9 137.4 172.2 137.9 172.5 138.4 171.1 138.9 172.4 139.4 172.6 139.9 172.9 140.4 172.8 140.9 172.9 141.4 171.5 141.9 172.6 142.4 172.6 142.9 172.6 143.4 172.8 143.9 169.7 144.4 169.7 144.9 168.7 145.4 172.9 145.9 172.7 146.4 172.8 146.9 172.2 147.4 172.4 147.9 172.5 148.4 172.4 148.9 172.5 149.4 172.8 149.9 172.9 150.4 172.2 150.9 172.9 151.4 173 151.9 172.7 152.4 171.3 152.9 171.3 153.4 170 153.9 167.6 154.4 172.1 154.9 172.7 155.4 172.2 155.9 173 156.4 173 156.9 170.1 157.4 172.2 157.9 169.3 158.4 172.4 158.9 172.6 159.4 169.8 159.9 169.2 160.4 172.5 160.9 173 161.4 171.6 161.9 168.1 162.4 172.9 162.9 172.9 163.4 172.7 163.9 170.5 164.4 172.6 164.9 171.8 165.4 171.8 165.9 172.6 166.4 172 166.9 172.8 167.4 172.4 167.9 172.6 168.4 171 168.9 171.6 169.4 169.7 169.9 171.7 170.4 172.4 170.9 171.6 171.4 172.9 171.9 168.6 172.4 171.4 172.9 172.9 173.4 171 173.9 172.5 174.4 169 174.9 172.9 175.4 172.9 175.9 172.8 176.4 172.7 176.9 173 177.4 171.6 177.9 171.5 178.4 172.2 178.9 172.5 179.4 172.3 179.9 170.1 180.4 169.6 180.9 173 181.4 172.1 181.9 172.2 182.4 172.7 182.9 172.6 183.4 172.6 183.9 171.9 184.4 172.8 184.9 172.8 185.4 172.5 185.9 172.1 186.4 172.4 186.9 172.7 187.4 173 187.9 173 188.4 172.8 188.9 172.8 189.4 168.5 189.9 171.6 190.4 170.7 190.9 173 191.4 172 191.9 172.6 192.4 172.5 192.9 172.6 193.4 171.9 193.9 172.7 194.4 172.7 194.9 170.4 195.4 172.1 195.9 172.8 196.4 172 196.9 172.2 197.4 172.5 197.9 172.7 198.4 172.7 198.9 172.7 199.4 172.2 199.9 168.5 200.4 170.4 200.9 168.5 201.4 173 201.9 172.5 202.4 172.9 202.9 172.4 203.4 173 203.9 172.1 204.4 172.1 204.9 172 205.4 172.9 205.9 172.4 206.4 170.8 206.9 172.7 207.4 172.2 207.9 172.9 208.4 170.5 208.9 171 209.4 171.8 209.9 171.4 210.4 172.5 210.9 172.7 211.4 170.9 211.9 172.8 212.4 172.5 212.9 171.1 213.4 170.7 213.9 172.2 214.4 172.7 214.9 171.8 215.4 166.5 215.9 170 216.4 173 216.9 171.1 217.4 169.9 217.9 172.7 218.4 171.8 218.9 170 219.4 172.1 219.9 173 220.4 172.7 220.9 172.8 221.4 171.2 221.9 173 222.4 173 222.9 172.8 223.4 172.8 223.9 172.5 224.4 171.4 224.9 170 225.4 170.8 225.9 172.1 226.4 172.7 226.9 172.6 227.4 172.3 227.9 172.9 228.4 172.2 228.9 172.8 229.4 170.6 229.9 171.8 230.4 168 230.9 172.6 231.4 172.4 231.9 170.7 232.4 172.2 232.9 172.8 233.4 172.7 233.9 172.6 234.4 172 234.9 172.3 235.4 172.2 235.9 172.7 236.4 172.8 236.9 172.5 237.4 169.7 237.9 172.2 238.4 172.6 238.9 172.3 239.4 171.9 239.9 172.9 240.4 172.9 240.9 172.6 241.4 172.1 241.9 171.8 242.4 171.9 242.9 172.8 243.4 172.3 243.9 172.6 244.4 173 244.9 172.1 245.4 172.7 245.9 168.1 246.4 172.8 246.9 172.7 247.4 172.7 247.9 172.9 248.4 170.6 248.9 172.8 249.4 171.1 249.9 172 250.4 172.2 250.9 172.8 251.4 172.8 251.9 172.1 252.4 171.8 252.9 169.8 253.4 173 253.9 172 254.4 172 254.9 170.8 255.4 170 255.9 172.6 256.4 172.3 256.9 172.6 257.4 172.8 257.9 170 258.4 172 258.9 172.8 259.4 172.4 259.9 172.9 260.4 172.8 260.9 170.7 261.4 172.5 261.9 172.8 262.4 172 262.9 172.6 263.4 171.2 263.9 172.3 264.4 172.5 264.9 172.7 265.4 170 265.9 172.7 266.4 172.9 266.9 171.9 267.4 172.9 267.9 172 268.4 172.6 268.9 171.7 269.4 172.3 269.9 172.6 270.4 172.3 270.9 172.9 271.4 171.4 271.9 172.3 272.4 172.4 272.9 172.2 273.4 172.4 273.9 172.2 274.4 172.3 274.9 171 275.4 172.5 275.9 168.5 276.4 172.8 276.9 172 277.4 171.2 277.9 172 278.4 170.9 278.9 170 279.4 172.2 279.9 170.6 280.4 172.9 280.9 172.8 281.4 172.6 281.9 172.7 282.4 172.9 282.9 171.2 283.4 172.6 283.9 172.2 284.4 172.6 284.9 172.8 285.4 170 285.9 172.7 286.4 172.8 286.9 172.1 287.4 171.6 287.9 172.9 288.4 172.8 288.9 172.7 289.4 170.7 289.9 171 290.4 171.9 290.9 172.1 291.4 172.7 291.9 173 292.4 171.4 292.9 172 293.4 172.6 293.9 169.8 294.4 171.9 294.9 172.8 295.4 172.7 295.9 172.5 296.4 171.3 296.9 172.5 297.4 171.5 297.9 172.9 298.4 171.8 298.9 171.9 299.4 170.9 299.9 170 300.4 172.2 300.9 171.3 301.4 172.8 301.9 170.6 302.4 170.6 302.9 172.6 303.4 171.8 303.9 173 304.4 170.5 304.9 171.4 305.4 170.2 305.9 172.2 306.4 171.9 306.9 170.5 307.4 172.9 307.9 169.9 308.4 172.7 308.9 173 309.4 172.6 309.9 173 310.4 172.8 310.9 172.9 311.4 172.1 311.9 172.5 312.4 170 312.9 172.4 313.4 172.8 313.9 170.4 314.4 172 314.9 172.7 315.4 172.7 315.9 170.6 316.4 171.7 316.9 172.8 317.4 172.8 317.9 172.8 318.4 173 318.9 172.4 319.4 169.8 319.9 172.5 320.4 172.1 320.9 172.8 321.4 172.8 321.9 171.5 322.4 172.8 322.9 169.7 323.4 171.8 323.9 172.6 324.4 172.8 324.9 172.2 325.4 172.4 325.9 172.8 326.4 172.8 326.9 172.3 327.4 172.3 327.9 169.2 328.4 169.1 328.9 173 329.4 172.4 329.9 171.1 330.4 171.2 330.9 172 331.4 172.9 331.9 172.5 332.4 172.6 332.9 169.4 333.4 172.6 333.9 171 334.4 172.9 334.9 171.1 335.4 172.9 335.9 173 336.4 172.9 336.9 172.4 337.4 172.7 337.9 172.5 338.4 172.9 338.9 172.7 339.4 172.8 339.9 172.9 340.4 172.9 340.9 172.6 341.4 172.4 341.9 171.5 342.4 171.7 342.9 170.8 343.4 172.2 343.9 172.2 344.4 172.3 344.9 172.8 345.4 171 345.9 171.7 346.4 172.8 346.9 171.7 347.4 173 347.9 172.5 348.4 172.8 348.9 172.4 349.4 172.7 349.9 170.4 350.4 173 350.9 172 351.4 170.5 351.9 172.7 352.4 172.7 352.9 173 353.4 172.5 353.9 172 354.4 172.8 354.9 171.4 355.4 172.5 355.9 171.7 356.4 171.8 356.9 171 357.4 171.6 357.9 171.6 358.4 171.8 358.9 170 359.4 171.3 359.9 172.9 360.4 172.2 360.9 170.5 361.4 170 361.9 172.7 362.4 171.4 362.9 172.5 363.4 172.2 363.9 172.9 364.4 172.1 364.9 172.3 365.4 172.8 365.9 173 366.4 172.8 366.9 172.4 367.4 171.3 367.9 173 368.4 167.9 368.9 172.8 369.4 172.3 369.9 170 370.4 171.3 370.9 172.5 371.4 172.4 371.9 171.6 372.4 170.1 372.9 171.4 373.4 168.1 373.9 172.3 374.4 173 374.9 172 375.4 172.2 375.9 172.7 376.4 172.6 376.9 170.1 377.4 168.3 377.9 173 378.4 172.9 378.9 171.2 379.4 172.3 379.9 173 380.4 172.9 380.9 170.7 381.4 172.4 381.9 172.1 382.4 172.6 382.9 172.8 383.4 172.9 383.9 171.8 384.4 172.4 384.9 171.3 385.4 172.5 385.9 171.1 386.4 172.9 386.9 172.3 387.4 172.3 387.9 172.9 388.4 173 388.9 172.9 389.4 171.7 389.9 173 390.4 173 390.9 172.6 391.4 172.8 391.9 172.9 392.4 172.3 392.9 170.6 393.4 172.8 393.9 172.7 394.4 172.7 394.9 171.2 395.4 172.8 395.9 172.8 396.4 172.4 396.9 171.4 397.4 172.3 397.9 170 398.4 172.3 398.9 172.8 399.4 172.5 399.9 172.1 400.4 172.8 400.9 172.4 401.4 170 401.9 172.3 402.4 171.2 402.9 171.3 403.4 172.8 403.9 172.4 404.4 172.1 404.9 171.2 405.4 172.9 405.9 173 406.4 172.6 406.9 170 407.4 169.2 407.9 170.2 408.4 172.8 408.9 172.3 409.4 171.4 409.9 173 410.4 172.4 410.9 170.5 411.4 172 411.9 172.9 412.4 172.9 412.9 171.2 413.4 172.7 413.9 172.4 414.4 171.8 414.9 171.3 415.4 172.7 415.9 168.1 416.4 172.4 416.9 172 417.4 172.2 417.9 171.1 418.4 168.6 418.9 172.8 419.4 169.5 419.9 170.9 420.4 167.6 420.9 172.9 421.4 170.2 421.9 170.8 422.4 172.9 422.9 172.3 423.4 171.3 423.9 166.2 424.4 172.2 424.9 172.8 425.4 171.6 425.9 172.5 426.4 171.5 426.9 172.9 427.4 171.8 427.9 172.6 428.4 173 428.9 172.6 429.4 172.8 429.9 172 430.4 171.8 430.9 172.6 431.4 173 431.9 172.2 432.4 171.7 432.9 172.1 433.4 170.4 433.9 170 434.4 172.4 434.9 171.6 435.4 172.6 435.9 170.6 436.4 172 436.9 166.8 437.4 170.4 437.9 169.6 438.4 171.8 438.9 172.8 439.4 172.4 439.9 172.7 440.4 171.4 440.9 173 441.4 171.7 441.9 168.9 442.4 170 442.9 172.2 443.4 173 443.9 172.1 444.4 172.9 444.9 171.5 445.4 171.8 445.9 172.8 446.4 170.7 446.9 172.8 447.4 168.8 447.9 172.3 448.4 172.4 448.9 172.8 449.4 172.7 449.9 172.5 450.4 172.6 450.9 172.9 451.4 170.8 451.9 171.8 452.4 172.8 452.9 172.2 453.4 172.8 453.9 172.9 454.4 170.7 454.9 170.5 455.4 170.8 455.9 171.6 456.4 171.9 456.9 167.2 457.4 172.8 457.9 172.8 458.4 172.7 458.9 172.8 459.4 172.7 459.9 173 460.4 172.4 460.9 169.3 461.4 172.5 461.9 171.9 462.4 171.7 462.9 172.8 463.4 172.6 463.9 171.1 464.4 172.8 464.9 171.9 465.4 171.9 465.9 167 466.4 171.3 466.9 172.1 467.4 172.7 467.9 172.5 468.4 169.7 468.9 172.7 469.4 171.3 469.9 172.7 470.4 170.6 470.9 168.8 471.4 167.2 471.9 172.4 472.4 172.9 472.9 169.9 473.4 173 473.9 172.2 474.4 172.7 474.9 172.9 475.4 169.8 475.9 172.2 476.4 171.3 476.9 170.7 477.4 172.1 477.9 172.9 478.4 171.9 478.9 171.3 479.4 171.8 479.9 170 480.4 172.9 480.9 172 481.4 172.5 481.9 171.7 482.4 171.9 482.9 172.9 483.4 171.8 483.9 172.2 484.4 172.7 484.9 170.6 485.4 168.7 485.9 170.1 486.4 172.6 486.9 172.3 487.4 171.6 487.9 172.8 488.4 172.9 488.9 172.6 489.4 172.7 489.9 172.4 490.4 172.2 490.9 170.7 491.4 170 491.9 171.5 492.4 171 492.9 172.5 493.4 171.5 493.9 173 494.4 172.6 494.9 171.9 495.4 172.6 495.9 172.9 496.4 168.3 496.9 170 497.4 172 497.9 171.3 498.4 173 498.9 168.6 499.4 172.9 499.9 172.7 500.4 170.2 500.9 170.3 501.4 172.4 501.9 172.4 502.4 172.4 502.9 170 503.4 171.8 503.9 173 504.4 172.2 504.9 170.2 505.4 172.2 505.9 172.3 506.4 172.7 506.9 169.7 507.4 172.3 507.9 172.9 508.4 172.9 508.9 172.7 509.4 171.9 509.9 172 510.4 171.8 510.9 172.4 511.4 172.6 511.9 172.8 512.4 172.9 512.9 168.6 513.4 171.6 513.9 172.5 514.4 171.9 514.9 172.5 515.4 170 515.9 172.7 516.4 169.5 516.9 172.2 517.4 172.2 517.9 171.4 518.4 172.8 518.9 172.7 519.4 172 519.9 173 520.4 172.1 520.9 172.8 521.4 173 521.9 172.9 522.4 172.8 522.9 171.9 523.4 172.3 523.9 172.7 524.4 172.6 524.9 172.3 525.4 172.8 525.9 171.1 526.4 172.3 526.9 172.6 527.4 172.8 527.9 173 528.4 172.2 528.9 172.4 529.4 171.8 529.9 170 530.4 169.6 530.9 172.9 531.4 171.9 531.9 172.3 532.4 172.8 532.9 172.9 533.4 169.9 533.9 171.8 534.4 172 534.9 172.3 535.4 172.7 535.9 173 536.4 171.2 536.9 173 537.4 172.8 537.9 172.1 538.4 172 538.9 171.8 539.4 172.1 539.9 172.7 540.4 169.3 540.9 172.6 541.4 172.5 541.9 172.6 542.4 172.4 542.9 172.1 543.4 172.8 543.9 172.2 544.4 172.5 544.9 172.2 545.4 172.3 545.9 171.7 546.4 172.6 546.9 172.4 547.4 173 547.9 170.3 548.4 170 548.9 172 549.4 172 549.9 171.4 550.4 172.8 550.9 172 551.4 172.1 551.9 170.9 552.4 170 552.9 172.5 553.4 171.5 553.9 172.7 554.4 166.2 554.9 172.6 555.4 172.8 555.9 171.2 556.4 172.3 556.9 172.1 557.4 172.1 557.9 170 558.4 169 558.9 172.8 559.4 171.8 559.9 169 560.4 171.4 560.9 172.2 561.4 172.6 561.9 172.7 562.4 172.5 562.9 172.9 563.4 172.8 563.9 173 564.4 171.9 564.9 172.8 565.4 169.2 565.9 169 566.4 172.8 566.9 172.6 567.4 172.6 567.9 169.3 568.4 170.2 568.9 172.5 569.4 168.6 569.9 169.8 570.4 172.1 570.9 172.3 571.4 172.1 571.9 170.7 572.4 172.9 572.9 172.6 573.4 169.9 573.9 172.4 574.4 172.5 574.9 172.5 575.4 171.2 575.9 171.4 576.4 170.5 576.9 170.3 577.4 172.5 577.9 172.2 578.4 171.5 578.9 172.7 579.4 172.1 579.9 172.7 580.4 172.7 580.9 172.5 581.4 171.9 581.9 172.8 582.4 172.4 582.9 172 583.4 172.3 583.9 171.5 584.4 172.9 584.9 172.5 585.4 172.8 585.9 171.9 586.4 172.6 586.9 172.2 587.4 172.9 587.9 172.7 588.4 171.7 588.9 170.5 589.4 173 589.9 171.3 590.4 171.9 590.9 173 591.4 167.9 591.4 200.6 590.9 201.6 590.4 200.6 589.9 202.8 589.4 200.6 588.9 199.2 588.4 199.5 587.9 198.9 587.4 199.2 586.9 198.7 586.4 198.6 585.9 201.6 585.4 199.2 584.9 198.8 584.4 201.5 583.9 199.1 583.4 199 582.9 198.6 582.4 199.4 581.9 198.7 581.4 200 580.9 198.7 580.4 199.9 579.9 198.7 579.4 201.5 578.9 200.2 578.4 201.8 577.9 199.8 577.4 198.9 576.9 203.2 576.4 198.9 575.9 198.6 575.4 200.2 574.9 198.7 574.4 198.8 573.9 199.1 573.4 200 572.9 201.5 572.4 198.7 571.9 198.8 571.4 201.5 570.9 198.8 570.4 199.3 569.9 199 569.4 200.8 568.9 198.9 568.4 199 567.9 198.7 567.4 199.3 566.9 201.4 566.4 201.6 565.9 199.5 565.4 198.9 564.9 198.6 564.4 200.1 563.9 199 563.4 199.6 562.9 198.9 562.4 199.1 561.9 203.3 561.4 198.9 560.9 200.3 560.4 201.7 559.9 199.3 559.4 199.1 558.9 198.9 558.4 199.2 557.9 199.5 557.4 199.7 556.9 199 556.4 200 555.9 198.7 555.4 201.3 554.9 199.5 554.4 199 553.9 203.2 553.4 199.8 552.9 199.5 552.4 199.3 551.9 199 551.4 200.4 550.9 199.4 550.4 199.3 549.9 199.4 549.4 198.8 548.9 198.6 548.4 202.7 547.9 199.6 547.4 198.9 546.9 198.9 546.4 199.8 545.9 199.5 545.4 198.6 544.9 198.7 544.4 198.9 543.9 198.9 543.4 199.1 542.9 199.8 542.4 199 541.9 199.9 541.4 199.2 540.9 199.3 540.4 199.1 539.9 201.6 539.4 200 538.9 199 538.4 199.6 537.9 198.7 537.4 199.4 536.9 199.4 536.4 198.8 535.9 199 535.4 199 534.9 198.8 534.4 199.3 533.9 198.8 533.4 203.4 532.9 199.3 532.4 200.6 531.9 198.9 531.4 199.2 530.9 198.6 530.4 200.1 529.9 201.2 529.4 202.9 528.9 198.8 528.4 198.9 527.9 198.9 527.4 198.9 526.9 199.1 526.4 201.6 525.9 198.9 525.4 198.9 524.9 199 524.4 199.4 523.9 198.9 523.4 198.7 522.9 198.6 522.4 200.6 521.9 200.4 521.4 198.7 520.9 199.5 520.4 198.8 519.9 199.3 519.4 198.9 518.9 200.3 518.4 199.6 517.9 199.7 517.4 199.6 516.9 200.1 516.4 198.8 515.9 199.1 515.4 198.7 514.9 198.8 514.4 198.9 513.9 201.2 513.4 200.9 512.9 202.7 512.4 199.5 511.9 202 511.4 199.3 510.9 198.7 510.4 200.2 509.9 203.7 509.4 201.5 508.9 200.4 508.4 200.5 507.9 199.5 507.4 200 506.9 200 506.4 202.1 505.9 202.3 505.4 198.7 504.9 198.6 504.4 198.6 503.9 200.5 503.4 198.9 502.9 198.9 502.4 198.9 501.9 199.1 501.4 199.4 500.9 200.4 500.4 199.6 499.9 199 499.4 199.1 498.9 201.6 498.4 199.5 497.9 199.9 497.4 199.8 496.9 199.2 496.4 200.2 495.9 199.1 495.4 198.6 494.9 199.2 494.4 199.2 493.9 198.6 493.4 198.8 492.9 199 492.4 202.1 491.9 198.6 491.4 199.1 490.9 203.8 490.4 199.6 489.9 198.9 489.4 202.5 488.9 199.2 488.4 200.2 487.9 199.9 487.4 199 486.9 201.8 486.4 199.2 485.9 199.3 485.4 201.9 484.9 200.5 484.4 199 483.9 198.9 483.4 199.3 482.9 199.5 482.4 198.8 481.9 199.7 481.4 200.6 480.9 198.6 480.4 199.3 479.9 198.7 479.4 199 478.9 199 478.4 199.3 477.9 199.9 477.4 198.7 476.9 200 476.4 200.4 475.9 201.6 475.4 200.8 474.9 198.8 474.4 199.7 473.9 199.1 473.4 198.8 472.9 198.8 472.4 198.8 471.9 199 471.4 199.9 470.9 206 470.4 199.8 469.9 199.8 469.4 201.1 468.9 199.9 468.4 198.7 467.9 199.2 467.4 201.3 466.9 199.3 466.4 198.8 465.9 199.6 465.4 201.7 464.9 199.8 464.4 199.9 463.9 198.9 463.4 198.6 462.9 198.9 462.4 200 461.9 199 461.4 201.1 460.9 200.4 460.4 198.7 459.9 198.9 459.4 199.5 458.9 199.6 458.4 198.7 457.9 198.7 457.4 200.1 456.9 198.9 456.4 199.1 455.9 198.9 455.4 199.2 454.9 199.2 454.4 201.6 453.9 199.8 453.4 199.3 452.9 198.8 452.4 199.4 451.9 199.5 451.4 199.5 450.9 201.6 450.4 199.6 449.9 198.6 449.4 200.8 448.9 199.1 448.4 199.2 447.9 199.2 447.4 198.9 446.9 198.7 446.4 200.1 445.9 200.9 445.4 202.9 444.9 199.7 444.4 199.6 443.9 199.1 443.4 199.7 442.9 199.5 442.4 199 441.9 198.7 441.4 198.7 440.9 198.7 440.4 198.8 439.9 201.6 439.4 200.9 438.9 199.2 438.4 198.8 437.9 203.4 437.4 199.1 436.9 201.4 436.4 203.1 435.9 199.2 435.4 198.8 434.9 203.7 434.4 198.6 433.9 200.4 433.4 199 432.9 199 432.4 198.7 431.9 199.6 431.4 199.2 430.9 201.5 430.4 201.6 429.9 202 429.4 198.7 428.9 199.4 428.4 198.8 427.9 202.7 427.4 200.1 426.9 199.7 426.4 198.8 425.9 203.5 425.4 200.2 424.9 198.7 424.4 198.9 423.9 198.7 423.4 199.1 422.9 199.4 422.4 199.6 421.9 199.1 421.4 199 420.9 198.9 420.4 199.5 419.9 199 419.4 198.8 418.9 200.1 418.4 201.5 417.9 198.7 417.4 198.8 416.9 201.8 416.4 198.7 415.9 198.9 415.4 198.9 414.9 198.8 414.4 198.6 413.9 199.9 413.4 199.2 412.9 198.8 412.4 199.1 411.9 199.3 411.4 198.7 410.9 199.2 410.4 198.9 409.9 198.6 409.4 200.5 408.9 199.3 408.4 203 407.9 201.1 407.4 199.3 406.9 199.5 406.4 198.6 405.9 199.2 405.4 198.9 404.9 199.5 404.4 198.7 403.9 201.6 403.4 198.7 402.9 199 402.4 199.3 401.9 200.3 401.4 200.2 400.9 200.8 400.4 199.7 399.9 199.6 399.4 200.8 398.9 200.1 398.4 198.7 397.9 198.9 397.4 200.7 396.9 200.3 396.4 200 395.9 199 395.4 198.7 394.9 199.1 394.4 199.3 393.9 200.3 393.4 199.7 392.9 199.2 392.4 201.1 391.9 199.4 391.4 199.8 390.9 198.8 390.4 199 389.9 198.7 389.4 199.4 388.9 199.4 388.4 199.4 387.9 203.8 387.4 199.6 386.9 198.8 386.4 199.2 385.9 200.2 385.4 199.3 384.9 198.7 384.4 198.9 383.9 199.3 383.4 198.8 382.9 199.1 382.4 199.9 381.9 199.1 381.4 198.6 380.9 199.7 380.4 199.4 379.9 198.7 379.4 201.6 378.9 198.7 378.4 199.2 377.9 199.5 377.4 199.5 376.9 198.9 376.4 198.7 375.9 198.9 375.4 199.8 374.9 200.2 374.4 199 373.9 198.9 373.4 198.7 372.9 200.7 372.4 201.6 371.9 203 371.4 204 370.9 198.8 370.4 198.7 369.9 199.3 369.4 198.6 368.9 199.4 368.4 199.5 367.9 199.3 367.4 201.1 366.9 198.7 366.4 199.4 365.9 198.8 365.4 202.1 364.9 199.2 364.4 199.7 363.9 199.8 363.4 198.6 362.9 198.9 362.4 199 361.9 202.7 361.4 199.9 360.9 198.9 360.4 201 359.9 199.3 359.4 198.7 358.9 199.2 358.4 199 357.9 199.6 357.4 199.6 356.9 198.7 356.4 198.7 355.9 198.7 355.4 198.7 354.9 203.9 354.4 198.8 353.9 199 353.4 199.7 352.9 200.7 352.4 198.8 351.9 199.1 351.4 202.3 350.9 200.5 350.4 200.9 349.9 201.2 349.4 199 348.9 198.9 348.4 200.3 347.9 200 347.4 199.5 346.9 199 346.4 202.5 345.9 199 345.4 200.1 344.9 198.7 344.4 199.6 343.9 198.9 343.4 200.1 342.9 198.8 342.4 199.3 341.9 200 341.4 202.7 340.9 199.7 340.4 198.9 339.9 199.2 339.4 198.8 338.9 198.8 338.4 199.2 337.9 199.1 337.4 198.9 336.9 203.4 336.4 200.5 335.9 202.8 335.4 198.8 334.9 203.2 334.4 200.7 333.9 201.4 333.4 198.9 332.9 200.3 332.4 202.3 331.9 199.6 331.4 200 330.9 198.9 330.4 201.9 329.9 199.2 329.4 198.7 328.9 198.9 328.4 198.8 327.9 199 327.4 198.9 326.9 200.3 326.4 199.4 325.9 198.9 325.4 199.6 324.9 200 324.4 199.3 323.9 199.8 323.4 200.6 322.9 198.9 322.4 202.2 321.9 199.3 321.4 199.1 320.9 199.1 320.4 199.6 319.9 200 319.4 198.6 318.9 200 318.4 199.2 317.9 199.3 317.4 198.7 316.9 198.7 316.4 199.9 315.9 199.1 315.4 198.8 314.9 199 314.4 199 313.9 199 313.4 201.7 312.9 199.5 312.4 199.2 311.9 199.1 311.4 199.4 310.9 200.2 310.4 201 309.9 199.6 309.4 198.6 308.9 199 308.4 198.6 307.9 198.8 307.4 198.9 306.9 198.9 306.4 203.5 305.9 199.5 305.4 198.7 304.9 199 304.4 199.3 303.9 200.7 303.4 199.3 302.9 198.7 302.4 199.4 301.9 199.9 301.4 198.8 300.9 199.6 300.4 199.1 299.9 199.1 299.4 198.6 298.9 198.8 298.4 199.8 297.9 200.2 297.4 199.2 296.9 200.7 296.4 198.8 295.9 198.7 295.4 199.7 294.9 199.7 294.4 198.7 293.9 199.8 293.4 198.6 292.9 199.4 292.4 201.2 291.9 198.9 291.4 199 290.9 199.6 290.4 200.2 289.9 199.5 289.4 199.3 288.9 198.7 288.4 200.1 287.9 201.6 287.4 198.8 286.9 199.8 286.4 199.4 285.9 201.3 285.4 199.2 284.9 199.1 284.4 199.9 283.9 198.8 283.4 199.2 282.9 198.7 282.4 200 281.9 201.2 281.4 199 280.9 199.8 280.4 199 279.9 200.8 279.4 201.1 278.9 199.6 278.4 198.7 277.9 198.7 277.4 198.7 276.9 201.6 276.4 201.6 275.9 199.7 275.4 198.8 274.9 199.5 274.4 198.8 273.9 199 273.4 199.1 272.9 198.8 272.4 199.1 271.9 198.8 271.4 199.3 270.9 198.7 270.4 198.9 269.9 199 269.4 198.8 268.9 198.7 268.4 200.5 267.9 198.8 267.4 199.4 266.9 198.7 266.4 198.7 265.9 199.3 265.4 202.7 264.9 199.1 264.4 199.2 263.9 199.8 263.4 199.5 262.9 202.2 262.4 198.6 261.9 199 261.4 199.1 260.9 198.8 260.4 198.8 259.9 198.7 259.4 198.8 258.9 198.7 258.4 199.1 257.9 200 257.4 198.7 256.9 198.7 256.4 198.8 255.9 199.5 255.4 198.8 254.9 198.8 254.4 198.9 253.9 198.7 253.4 199.4 252.9 200.2 252.4 199.4 251.9 199.3 251.4 198.7 250.9 201.3 250.4 199.3 249.9 199.3 249.4 199.5 248.9 201.6 248.4 199.7 247.9 198.7 247.4 198.7 246.9 199.4 246.4 199.2 245.9 200.2 245.4 199.5 244.9 200 244.4 199 243.9 199.5 243.4 199.4 242.9 199.3 242.4 199.3 241.9 201.6 241.4 202.1 240.9 199.7 240.4 199.7 239.9 199.7 239.4 199.3 238.9 201.1 238.4 199 237.9 201.6 237.4 199.3 236.9 199.5 236.4 201.6 235.9 199.7 235.4 198.7 234.9 198.9 234.4 201.6 233.9 199.5 233.4 202.1 232.9 202.3 232.4 199.8 231.9 199.9 231.4 199.5 230.9 198.9 230.4 198.8 229.9 198.7 229.4 199 228.9 203.1 228.4 199.6 227.9 199.7 227.4 204.9 226.9 199 226.4 198.8 225.9 202.1 225.4 198.7 224.9 200.7 224.4 200.3 223.9 198.7 223.4 200.4 222.9 198.7 222.4 200.1 221.9 200.8 221.4 198.9 220.9 200.9 220.4 198.9 219.9 202.5 219.4 199 218.9 199.2 218.4 201.3 217.9 199.1 217.4 199.2 216.9 201.6 216.4 199.1 215.9 199.7 215.4 201.3 214.9 200.3 214.4 202.6 213.9 198.7 213.4 198.8 212.9 198.9 212.4 198.8 211.9 199.3 211.4 198.9 210.9 198.6 210.4 203.6 209.9 201.4 209.4 199.5 208.9 199.7 208.4 202.8 207.9 199.4 207.4 199.8 206.9 204.9 206.4 199.3 205.9 199.8 205.4 198.8 204.9 199.4 204.4 199.6 203.9 199.4 203.4 199.5 202.9 201.1 202.4 199.6 201.9 199.1 201.4 198.9 200.9 199.5 200.4 198.7 199.9 198.6 199.4 199.1 198.9 199.1 198.4 199.3 197.9 199.2 197.4 198.7 196.9 198.7 196.4 199.1 195.9 198.7 195.4 198.9 194.9 198.8 194.4 198.6 193.9 200.1 193.4 198.9 192.9 199.1 192.4 198.7 191.9 201.1 191.4 200.5 190.9 200.1 190.4 199.6 189.9 198.8 189.4 199.7 188.9 198.9 188.4 198.6 187.9 201.6 187.4 198.9 186.9 198.7 186.4 199.8 185.9 199.2 185.4 198.6 184.9 199.1 184.4 200.7 183.9 199.1 183.4 201.6 182.9 200.9 182.4 198.7 181.9 198.8 181.4 200.1 180.9 198.7 180.4 198.9 179.9 199.7 179.4 198.8 178.9 198.9 178.4 199 177.9 199.1 177.4 198.9 176.9 198.9 176.4 199.1 175.9 203.2 175.4 203.4 174.9 200.7 174.4 198.8 173.9 198.7 173.4 198.6 172.9 198.7 172.4 198.9 171.9 199 171.4 198.8 170.9 198.9 170.4 199 169.9 200.6 169.4 199.7 168.9 202.6 168.4 199.2 167.9 200.8 167.4 202.3 166.9 199.8 166.4 198.8 165.9 199.5 165.4 200.6 164.9 200.2 164.4 201.9 163.9 199.5 163.4 199 162.9 198.6 162.4 198.7 161.9 201.6 161.4 199.6 160.9 199.8 160.4 199.1 159.9 198.7 159.4 200.1 158.9 199.7 158.4 198.9 157.9 199.3 157.4 199.4 156.9 198.8 156.4 201.2 155.9 199.8 155.4 198.7 154.9 199.2 154.4 200.1 153.9 198.9 153.4 199.5 152.9 199 152.4 198.9 151.9 199.4 151.4 198.7 150.9 198.8 150.4 198.7 149.9 198.7 149.4 204.1 148.9 199.3 148.4 199.7 147.9 200.6 147.4 198.6 146.9 198.9 146.4 200.6 145.9 201.5 145.4 199.2 144.9 198.7 144.4 200.8 143.9 202 143.4 199.9 142.9 198.7 142.4 202.3 141.9 199.6 141.4 198.6 140.9 202.3 140.4 199.4 139.9 199 139.4 200 138.9 199.2 138.4 198.8 137.9 199.1 137.4 198.8 136.9 198.7 136.4 200.9 135.9 199.1 135.4 202.7 134.9 200.1 134.4 199.4 133.9 202.2 133.4 199.4 132.9 203.5 132.4 200.9 131.9 200.4 131.4 198.8 130.9 200 130.4 198.9 129.9 198.9 129.4 199.3 128.9 200 128.4 199 127.9 198.7 127.4 201.6 126.9 199.2 126.4 199.1 125.9 198.6 125.4 199.4 124.9 198.6 124.4 199.7 123.9 198.8 123.4 199 122.9 201.4 122.4 199.8 121.9 199 121.4 200.6 120.9 201.2 120.4 200.4 119.9 198.7 119.4 199.1 118.9 201.6 118.4 198.7 117.9 199 117.4 199 116.9 199.4 116.4 199.8 115.9 201.1 115.4 201.5 114.9 199.1 114.4 203.7 113.9 199 113.4 198.7 112.9 198.8 112.4 198.9 111.9 199.6 111.4 200.6 110.9 198.7 110.4 204.7 109.9 199 109.4 199.2 108.9 199.1 108.4 200.4 107.9 200.7 107.4 199.7 106.9 200.7 106.4 200.1 105.9 199.4 105.4 200 104.9 199.4 104.4 199.3 103.9 201.3 103.4 200.5 102.9 199.6 102.4 202 101.9 200.4 101.4 198.8 100.9 199.2 100.4 199.4 99.9 198.8 99.4 199.2 98.9 199.2 98.4 200.1 97.9 199.5 97.4 200.7 96.9 199.3 96.4 199.2 95.9 199.9 95.4 200.7 94.9 199.6 94.4 198.6 93.9 199.3 93.4 199.4 92.9 199.9 92.4 198.7 91.9 200 91.4 200.1 90.9 198.9 90.4 199.3 89.9 199 89.4 198.6 88.9 203.3 88.4 199.8 87.9 200.6 87.4 199.1 86.9 198.7 86.4 202.2 85.9 199.4 85.4 198.7 84.9 202.7 84.4 200.7 83.9 199.6 83.4 200 82.9 199.4 82.4 198.9 81.9 198.9 81.4 198.7 80.9 198.7 80.4 200 79.9 198.7 79.4 198.9 78.9 199 78.4 198.6 77.9 200.6 77.4 198.7 76.9 198.8 76.4 199 75.9 198.6 75.4 200.4 74.9 201.6 74.4 202.4 73.9 200.9 73.4 199.6 72.9 198.9 72.4 198.7 71.9 199.6 71.4 198.7 70.9 199.5 70.4 203.4 69.9 198.9 69.4 199 68.9 198.7 68.4 200.4 67.9 199.1 67.4 200.6 66.9 199.2 66.4 199.4 65.9 198.9 65.4 198.9 64.9 199.5 64.4 201 63.9 198.6 63.4 200.3 62.9 198.7 62.4 199.6 61.9 198.8 61.4 198.8 60.9 199.2 60.4 198.7 59.9 199.1 59.4 198.7 58.9 201.9 58.4 198.7 57.9 200.6 57.4 201 56.9 203.6 56.4 203.1 55.9 202.1 55.4 199.2 54.9 200.5 54.4 199.5 53.9 198.9 53.4 199 52.9 199.6 52.4 198.6 51.9 199.1 51.4 199 50.9 198.9 50.4 203.5 49.9 199.3 49.4 198.8 48.9 198.9 48.4 199.8 47.9 198.7 47.4 201.6 46.9 201.6 46.4 201.2 45.9 198.8 45.4 199.4 44.9 201.8 44.4 201.4 43.9 198.7 43.4 199 42.9 198.9 42.4 202.3 41.9 198.9 41.4 199.3 40.9 201.7 40.4 200.7 39.9 198.8 39.4 198.6 38.9 199.4 38.4 199.8 37.9 199.5 37.4 198.7 36.9 201.6 36.4 198.9 35.9 198.9 35.4 199.1 34.9 198.6 34.4 198.9 33.9 198.9 33.4 199.5 32.9 199 32.4 198.7 31.9 201.2 31.4 199 30.9 199.1 30.4 201.6 29.9 198.7 29.4 199.4 28.9 200.1 28.4 203.3 27.9 198.8 27.4 203.2 26.9 198.7 26.4 199.2 25.9 199.4 25.4 198.6 24.9 203.5 24.4 200.9 23.9 201.1 23.4 199 22.9 198.6 22.4 198.9 21.9 198.9 21.4 201.1 20.9 200.4 20.4 198.8 19.9 198.9 19.4 198.8 18.9 199.4 18.4 199.8 17.9 201.4 17.4 203.4 16.9 198.6 16.4 199.9" fill="#ae0000" stroke="#ae0000" stroke-width="0.6"/>
<polygon points="16.4 275 16.9 276.6 17.4 273.8 17.9 277.6 18.4 277.5 18.9 276.9 19.4 278.8 19.9 281.4 20.4 283.9 20.9 279 21.4 284 21.9 283.6 22.4 287.7 22.9 289 23.4 286.8 23.9 291.1 24.4 288.4 24.9 289 25.4 293.6 25.9 295.1 26.4 295.9 26.9 297 27.4 296.5 27.9 297.7 28.4 299.4 28.9 299.8 29.4 301.6 29.9 299.5 30.4 302.9 30.9 304 31.4 300.6 31.9 305.3 32.4 305.1 32.9 306.5 33.4 305.4 33.9 308.1 34.4 308.5 34.9 307.8 35.4 304.1 35.9 309.7 36.4 310.8 36.9 311.4 37.4 311 37.9 311.7 38.4 312.1 38.9 312.7 39.4 313.1 39.9 312.9 40.4 313.8 40.9 313.8 41.4 311.1 41.9 313.5 42.4 313.9 42.9 309.7 43.4 312.4 43.9 313.7 44.4 311.7 44.9 307.9 45.4 312.8 45.9 312.9 46.4 312 46.9 312.1 47.4 310.9 47.9 311.2 48.4 309.2 48.9 306.5 49.4 309.7 49.9 309.2 50.4 306.7 50.9 305.3 51.4 302.7 51.9 306.5 52.4 304.3 52.9 305.4 53.4 302.5 53.9 302.8 54.4 302.6 54.9 302.1 55.4 298.8 55.9 300.2 56.4 297.8 56.9 293.2 57.4 296.7 57.9 290.8 58.4 292.7 58.9 294.1 59.4 293.7 59.9 291.2 60.4 291.8 60.9 285.6 61.4 289.6 61.9 287.1 62.4 287.3 62.9 286.1 63.4 285.6 63.9 283.8 64.4 283.5 64.9 279 65.4 281.2 65.9 280 66.4 274.2 66.9 276.7 67.4 271.9 67.9 276.2 68.4 274.8 68.9 273.5 69.4 272.7 69.9 271.3 70.4 269.4 70.9 264.1 71.4 268.7 71.9 264.1 72.4 263.8 72.9 265.7 73.4 264.4 73.9 260.6 74.4 257.1 74.9 260.9 75.4 259.5 75.9 258.8 76.4 258.3 76.9 257.2 77.4 256.1 77.9 252.7 78.4 247.7 78.9 248 79.4 251.4 79.9 250.9 80.4 249.5 80.9 246.9 81.4 247.2 81.9 246.5 82.4 244.4 82.9 243.2 83.4 244 83.9 243 84.4 241.7 84.9 240 85.4 239.1 85.9 239.1 86.4 238.4 86.9 236.8 87.4 232.4 87.9 231.7 88.4 234.7 88.9 231.8 89.4 228.7 89.9 228.8 90.4 231.1 90.9 231.3 91.4 230.2 91.9 230 92.4 227.6 92.9 229 93.4 227.8 93.9 227.8 94.4 224.4 94.9 225.4 95.4 226.6 95.9 225.9 96.4 223.5 96.9 225.7 97.4 224.3 97.9 221.1 98.4 224.3 98.9 225.1 99.4 222.5 99.9 224.2 100.4 224.7 100.9 224.8 101.4 224.9 101.9 224.7 102.4 225.7 102.9 225.6 103.4 225.4 103.9 224.8 104.4 221 104.9 227 105.4 227.7 105.9 228.1 106.4 228.4 106.9 225.4 107.4 229.9 107.9 230.2 108.4 228.6 108.9 231.9 109.4 232.3 109.9 232.8 110.4 233.7 110.9 230.4 111.4 235.2 111.9 236.2 112.4 237.4 112.9 234.1 113.4 238.2 113.9 237.8 114.4 239.3 114.9 241 115.4 240.9 115.9 242.1 116.4 244.5 116.9 244.9 117.4 246.6 117.9 247.3 118.4 248.7 118.9 249.1 119.4 250.8 119.9 251.8 120.4 249.9 120.9 253.7 121.4 254.3 121.9 255.5 122.4 256.4 122.9 253.3 123.4 258.9 123.9 258.1 124.4 260 124.9 262.1 125.4 259 125.9 263.8 126.4 265.4 126.9 266.4 127.4 267 127.9 267.5 128.4 269.6 128.9 269.9 129.4 270.6 129.9 270 130.4 268.5 130.9 274.2 131.4 273 131.9 275.8 132.4 277.9 132.9 279.1 133.4 280.1 133.9 281.1 134.4 282.1 134.9 282.6 135.4 282.5 135.9 279.9 136.4 284.3 136.9 283.9 137.4 288.1 137.9 283.8 138.4 289.9 138.9 288.6 139.4 291.8 139.9 293.1 140.4 292.3 140.9 294.8 141.4 296.4 141.9 295.8 142.4 297.8 142.9 297.5 143.4 299.4 143.9 301 144.4 301.5 144.9 300.9 145.4 303.6 145.9 304.4 146.4 304.6 146.9 304.7 147.4 306.6 147.9 304.7 148.4 307.1 148.9 306.6 149.4 305.5 149.9 309.4 150.4 308.3 150.9 310.1 151.4 310.7 151.9 307.8 152.4 312 152.9 309.5 153.4 311.2 153.9 311.8 154.4 312.7 154.9 312.7 155.4 311.6 155.9 313.6 156.4 313.9 156.9 309.6 157.4 313.9 157.9 313.7 158.4 311.9 158.9 309.5 159.4 310.8 159.9 312.1 160.4 313.2 160.9 312.9 161.4 309.1 161.9 309.1 162.4 308.9 162.9 309.4 163.4 310.5 163.9 309 164.4 309.1 164.9 309.2 165.4 307.6 165.9 307.5 166.4 307 166.9 303.6 167.4 304.8 167.9 303.8 168.4 298.7 168.9 303.1 169.4 302 169.9 301.4 170.4 300.9 170.9 295.8 171.4 298.3 171.9 297.9 172.4 296.6 172.9 294.3 173.4 295.2 173.9 291.4 174.4 292 174.9 291.6 175.4 290 175.9 289.8 176.4 289.2 176.9 282.9 177.4 287.2 177.9 285.9 178.4 282 178.9 283.5 179.4 282.2 179.9 281.7 180.4 275.7 180.9 278.7 181.4 278.9 181.9 277.5 182.4 276.6 182.9 275.4 183.4 274.5 183.9 273.7 184.4 270.4 184.9 271.5 185.4 269.9 185.9 268.5 186.4 267.9 186.9 266.8 187.4 266.1 187.9 263.8 188.4 263.6 188.9 262.1 189.4 260.2 189.9 256.9 190.4 259.3 190.9 257.8 191.4 255.2 191.9 256.4 192.4 254 192.9 254.5 193.4 252.3 193.9 250.2 194.4 246.8 194.9 250.6 195.4 245.4 195.9 247.1 196.4 246.6 196.9 246 197.4 244.9 197.9 243.2 198.4 242.9 198.9 241.2 199.4 240.1 199.9 240.5 200.4 239.7 200.9 238.7 201.4 237.6 201.9 237.2 202.4 234.3 202.9 234.6 203.4 234.6 203.9 229.9 204.4 230.2 204.9 232 205.4 231.3 205.9 226.5 206.4 223.6 206.9 229.3 207.4 227.8 207.9 227.7 208.4 227.2 208.9 225.7 209.4 227.3 209.9 225.9 210.4 226.6 210.9 225.7 211.4 225.1 211.9 224.8 212.4 224.7 212.9 219.5 213.4 223.8 213.9 225.1 214.4 224 214.9 218.4 215.4 223.3 215.9 225.3 216.4 225.2 216.9 220.7 217.4 224.4 217.9 225.6 218.4 226.1 218.9 224.5 219.4 227 219.9 227.2 220.4 227.7 220.9 227.1 221.4 224.6 221.9 229.3 222.4 229.9 222.9 230.6 223.4 230.3 223.9 224.8 224.4 231.8 224.9 232.7 225.4 230.2 225.9 234.1 226.4 233.1 226.9 236.9 227.4 237 227.9 233.3 228.4 235.2 228.9 240.1 229.4 240.9 229.9 241 230.4 242.1 230.9 240.1 231.4 243.9 231.9 245.3 232.4 246 232.9 248.1 233.4 243.7 233.9 249.6 234.4 249.6 234.9 251.3 235.4 252.1 235.9 254 236.4 253.9 236.9 255.1 237.4 257.3 237.9 258.3 238.4 258 238.9 260 239.4 261.5 239.9 262.4 240.4 263.6 240.9 263.8 241.4 264.9 241.9 264 242.4 268 242.9 268.1 243.4 270 243.9 268.6 244.4 267.2 244.9 273 245.4 274 245.9 275.3 246.4 273.4 246.9 277.2 247.4 278.3 247.9 278.8 248.4 280.5 248.9 281.4 249.4 282 249.9 283.6 250.4 280.6 250.9 281.9 251.4 285.8 251.9 287.9 252.4 288.1 252.9 289.5 253.4 290.8 253.9 286.1 254.4 291.4 254.9 293.9 255.4 293 255.9 294.4 256.4 296.6 256.9 297.1 257.4 297.8 257.9 295.8 258.4 300.5 258.9 300 259.4 300.1 259.9 302.7 260.4 297.9 260.9 303.2 261.4 304.9 261.9 304.9 262.4 306.4 262.9 306 263.4 308.3 263.9 307.3 264.4 304.9 264.9 308.8 265.4 310 265.9 310 266.4 308.3 266.9 311.6 267.4 308 267.9 309.9 268.4 312.4 268.9 312.9 269.4 311.3 269.9 313.3 270.4 311.3 270.9 313.1 271.4 313.7 271.9 312.3 272.4 313.9 272.9 308 273.4 313.2 273.9 311.3 274.4 313.6 274.9 312.4 275.4 312.5 275.9 311.6 276.4 312.3 276.9 311.9 277.4 310.9 277.9 310.5 278.4 310.5 278.9 307.2 279.4 308.3 279.9 308.3 280.4 307.8 280.9 307 281.4 306.9 281.9 306.2 282.4 305.4 282.9 301.3 283.4 302.4 283.9 298.2 284.4 302.3 284.9 300.5 285.4 298.5 285.9 299.4 286.4 294.1 286.9 294.8 287.4 296.5 287.9 294.6 288.4 294.4 288.9 293.1 289.4 293 289.9 291.4 290.4 287.9 290.9 284.9 291.4 288.1 291.9 285.9 292.4 286.5 292.9 285.5 293.4 284.4 293.9 283.8 294.4 281.8 294.9 281 295.4 280.3 295.9 278.7 296.4 277.8 296.9 275.9 297.4 275.7 297.9 275.2 298.4 272.6 298.9 269.1 299.4 271.8 299.9 267.2 300.4 270 300.9 267.5 301.4 262.5 301.9 264 302.4 264.8 302.9 261.9 303.4 263.2 303.9 257.7 304.4 261.5 304.9 258.2 305.4 259.1 305.9 255.7 306.4 257.2 306.9 253.5 307.4 254.9 307.9 252.5 308.4 253.3 308.9 251.4 309.4 249.3 309.9 250.2 310.4 248.9 310.9 243.2 311.4 240.3 311.9 246 312.4 241.5 312.9 243.7 313.4 242.6 313.9 241.9 314.4 241.2 314.9 239.2 315.4 239.1 315.9 237.3 316.4 237.1 316.9 236.7 317.4 235.8 317.9 234.4 318.4 232.8 318.9 232.8 319.4 231.8 319.9 231.9 320.4 231.5 320.9 229.5 321.4 229.4 321.9 229.1 322.4 228.8 322.9 228.3 323.4 225.3 323.9 226.6 324.4 220.2 324.9 226.8 325.4 224 325.9 221.7 326.4 225.8 326.9 224.7 327.4 225.3 327.9 225.3 328.4 223.3 328.9 220.6 329.4 224.1 329.9 224.2 330.4 223.6 330.9 225.3 331.4 224.1 331.9 220.5 332.4 223.6 332.9 225.5 333.4 226.1 333.9 226.7 334.4 226.8 334.9 227.6 335.4 228 335.9 228.6 336.4 227.9 336.9 228.4 337.4 228.9 337.9 231 338.4 231 338.9 232.1 339.4 232.9 339.9 233.1 340.4 233.2 340.9 235.3 341.4 236 341.9 234.7 342.4 236.9 342.9 236 343.4 238.3 343.9 240.8 344.4 241 344.9 241.7 345.4 243.4 345.9 244.6 346.4 245.1 346.9 245.3 347.4 246.7 347.9 248 348.4 248.8 348.9 249.3 349.4 245.5 349.9 252.6 350.4 248.5 350.9 254.1 351.4 255.7 351.9 256.7 352.4 257.7 352.9 255.7 353.4 259.8 353.9 260.5 354.4 261.8 354.9 263.1 355.4 262.5 355.9 263.7 356.4 260.3 356.9 261.4 357.4 263.6 357.9 269.3 358.4 266.5 358.9 269.7 359.4 269 359.9 273.5 360.4 273.8 360.9 275 361.4 276.8 361.9 276.8 362.4 278.3 362.9 279.8 363.4 279.9 363.9 281.8 364.4 280.9 364.9 283.9 365.4 283.4 365.9 285.7 366.4 286.9 366.9 287.7 367.4 289.3 367.9 289.1 368.4 289.6 368.9 290.2 369.4 291.8 369.9 293.2 370.4 295.1 370.9 293.3 371.4 297 371.9 297.7 372.4 297.9 372.9 299 373.4 298.9 373.9 298.8 374.4 301.6 374.9 299.9 375.4 299.8 375.9 304.9 376.4 303.6 376.9 306.5 377.4 303.2 377.9 307.7 378.4 307.6 378.9 307 379.4 309.7 379.9 309.7 380.4 306.9 380.9 310.9 381.4 311.6 381.9 308.6 382.4 312.4 382.9 308.7 383.4 312.9 383.9 313.4 384.4 310.7 384.9 313.4 385.4 313.3 385.9 313.9 386.4 312.7 386.9 314 387.4 311.2 387.9 311.1 388.4 313.8 388.9 313.3 389.4 313.2 389.9 312.3 390.4 313 390.9 311.2 391.4 312.3 391.9 310.9 392.4 311.2 392.9 306.6 393.4 309.9 393.9 308.8 394.4 307 394.9 307.7 395.4 307 395.9 306.6 396.4 305.5 396.9 305.6 397.4 305 397.9 303.3 398.4 303.4 398.9 301.7 399.4 301.9 399.9 300.9 400.4 299.9 400.9 299.3 401.4 295.4 401.9 297.3 402.4 293.1 402.9 291.4 403.4 293.3 403.9 287 404.4 292.3 404.9 291.4 405.4 290.1 405.9 289.1 406.4 288.1 406.9 286.4 407.4 285.1 407.9 282.6 408.4 283.9 408.9 280.5 409.4 281.1 409.9 276.3 410.4 279.9 410.9 277.9 411.4 272 411.9 271.7 412.4 276 412.9 274.6 413.4 273.9 413.9 266.3 414.4 271.8 414.9 270.6 415.4 268 415.9 264.3 416.4 263.7 416.9 264.7 417.4 262 417.9 264.4 418.4 262.9 418.9 259.7 419.4 260.8 419.9 257.7 420.4 258.7 420.9 257.9 421.4 256.3 421.9 255.1 422.4 253.5 422.9 253.6 423.4 252.8 423.9 251.1 424.4 248.7 424.9 249.1 425.4 246.1 425.9 246.8 426.4 246.6 426.9 240.6 427.4 244.3 427.9 239.9 428.4 242.5 428.9 237.2 429.4 240.1 429.9 239.3 430.4 238.2 430.9 237.7 431.4 237.4 431.9 236.2 432.4 235.6 432.9 230.1 433.4 229 433.9 231.8 434.4 232.6 434.9 231.4 435.4 228.9 435.9 229.4 436.4 229.7 436.9 229.3 437.4 228.3 437.9 228.3 438.4 227.1 438.9 226.9 439.4 227 439.9 226.1 440.4 226.1 440.9 225.4 441.4 225.4 441.9 223.8 442.4 220.6 442.9 225 443.4 224.4 443.9 223.3 444.4 224.4 444.9 223.3 445.4 225.2 445.9 224.4 446.4 224.7 446.9 225 447.4 225.9 447.9 225.9 448.4 225.9 448.9 226.1 449.4 224.5 449.9 228 450.4 227.8 450.9 228.8 451.4 228.3 451.9 229 452.4 230.7 452.9 230.9 453.4 231.3 453.9 230.7 454.4 230.7 454.9 232.1 455.4 234.8 455.9 232.9 456.4 236.5 456.9 234.6 457.4 238.2 457.9 238.3 458.4 240.3 458.9 239.4 459.4 241.4 459.9 242.2 460.4 243.7 460.9 244.2 461.4 246 461.9 244.4 462.4 246.2 462.9 248.9 463.4 249.6 463.9 251 464.4 251.8 464.9 252.9 465.4 252.2 465.9 254.5 466.4 254.7 466.9 257 467.4 258 467.9 259.1 468.4 259.8 468.9 256 469.4 262 469.9 263.3 470.4 264.5 470.9 265.6 471.4 266.6 471.9 264.8 472.4 267.1 472.9 267.8 473.4 268.7 473.9 270.7 474.4 272.1 474.9 273.9 475.4 274.5 475.9 276.1 476.4 273 476.9 276.2 477.4 279.3 477.9 280.1 478.4 281.2 478.9 281.1 479.4 281.5 479.9 284.1 480.4 285.4 480.9 285.6 481.4 287.1 481.9 288.4 482.4 286.8 482.9 288.1 483.4 287.9 483.9 291.9 484.4 290.8 484.9 294.5 485.4 294.1 485.9 289 486.4 296.6 486.9 298.1 487.4 299.4 487.9 300.1 488.4 300.9 488.9 302 489.4 302.6 489.9 303.4 490.4 303.6 490.9 303.4 491.4 305.8 491.9 305 492.4 305.7 492.9 307.3 493.4 308.4 493.9 302.5 494.4 309.1 494.9 310.4 495.4 310.9 495.9 310.3 496.4 311.4 496.9 311.6 497.4 309.4 497.9 311.6 498.4 312.3 498.9 311.2 499.4 313.7 499.9 313.7 500.4 311.9 500.9 313.5 501.4 310.4 501.9 314.1 502.4 312.7 502.9 313.5 503.4 313.3 503.9 312.9 504.4 312.4 504.9 313.1 505.4 311.5 505.9 312.4 506.4 310.9 506.9 307.8 507.4 310.4 507.9 303.2 508.4 309.6 508.9 305.7 509.4 306.1 509.9 307.8 510.4 306.5 510.9 303.7 511.4 306.3 511.9 305.6 512.4 304.9 512.9 303.3 513.4 302.4 513.9 302.4 514.4 301.5 514.9 300.3 515.4 298 515.9 298.9 516.4 296.7 516.9 296.9 517.4 296 517.9 294.2 518.4 293.7 518.9 291.8 519.4 291.4 519.9 290.2 520.4 289.7 520.9 288.2 521.4 286 521.9 285.9 522.4 285.7 522.9 285 523.4 284 523.9 282.8 524.4 281.7 524.9 279.6 525.4 279 525.9 278.7 526.4 277.3 526.9 274.1 527.4 275.5 527.9 274.5 528.4 269.8 528.9 271.6 529.4 271.3 529.9 268.3 530.4 269.1 530.9 267.4 531.4 267 531.9 264.3 532.4 263.3 532.9 263.6 533.4 258.4 533.9 260 534.4 260.5 534.9 259.2 535.4 257.6 535.9 252.8 536.4 256.3 536.9 255.6 537.4 254.3 537.9 253.5 538.4 252.3 538.9 251.5 539.4 249.9 539.9 249 540.4 248.1 540.9 247.4 541.4 243.9 541.9 244.9 542.4 238.9 542.9 243.3 543.4 241.9 543.9 240.8 544.4 236.1 544.9 239 545.4 237.6 545.9 237.6 546.4 236.4 546.9 236.1 547.4 234 547.9 233.9 548.4 232.9 548.9 231.9 549.4 231.4 549.9 231.4 550.4 230.7 550.9 230.1 551.4 224 551.9 226.9 552.4 227.4 552.9 228.1 553.4 227.2 553.9 226.3 554.4 226.9 554.9 225.2 555.4 225.4 555.9 225.9 556.4 219.6 556.9 224.5 557.4 223.7 557.9 225.2 558.4 222.4 558.9 222.5 559.4 223.9 559.9 223.5 560.4 225.3 560.9 225.4 561.4 225.3 561.9 223 562.4 224.3 562.9 223.5 563.4 226.4 563.9 227.1 564.4 225.2 564.9 223.7 565.4 228.7 565.9 224.6 566.4 229 566.9 227.4 567.4 228.6 567.9 231.5 568.4 229.7 568.9 231.7 569.4 231 569.9 233 570.4 234.5 570.9 235.8 571.4 234.1 571.9 237.1 572.4 237.4 572.9 239.6 573.4 240.2 573.9 239.4 574.4 236.4 574.9 241.4 575.4 243.1 575.9 242.4 576.4 244.3 576.9 246.7 577.4 247.1 577.9 246.9 578.4 250 578.9 248.5 579.4 251.1 579.9 247.2 580.4 254.2 580.9 252.6 581.4 254.6 581.9 257.3 582.4 252.2 582.9 258.5 583.4 260.4 583.9 260.9 584.4 262.4 584.9 262.8 585.4 265 585.9 264.2 586.4 266.8 586.9 268.2 587.4 268.5 587.9 268.2 588.4 270.6 588.9 267.4 589.4 271.1 589.9 273 590.4 272.8 590.9 274.3 591.4 272.2 591.4 302.9 590.9 304.2 590.4 300.4 589.9 305.1 589.4 299.9 588.9 297.2 588.4 296 587.9 295.3 587.4 296.2 586.9 293.8 586.4 292.1 585.9 293.2 585.4 290.1 584.9 290.3 584.4 287.8 583.9 287.1 583.4 285.9 582.9 285 582.4 283.4 581.9 282.6 581.4 282.4 580.9 280.4 580.4 280.7 579.9 278.5 579.4 277.6 578.9 276.4 578.4 275.4 577.9 274.4 577.4 273.8 576.9 273.6 576.4 272.7 575.9 270.5 575.4 269.4 574.9 268.5 574.4 270.6 573.9 266.9 573.4 267.3 572.9 266.4 572.4 263.5 571.9 263.2 571.4 264.7 570.9 266.4 570.4 261.3 569.9 264.9 569.4 259.2 568.9 258.6 568.4 257.8 567.9 261 567.4 256 566.9 255.5 566.4 254.5 565.9 256 565.4 253.7 564.9 258.3 564.4 252.4 563.9 253.5 563.4 251.8 562.9 259.1 562.4 252.4 561.9 250.6 561.4 251.5 560.9 251.9 560.4 252.3 559.9 250.5 559.4 249.9 558.9 251.7 558.4 249.9 557.9 249.9 557.4 252.1 556.9 252.4 556.4 252.9 555.9 251.8 555.4 252.2 554.9 252.9 554.4 252.7 553.9 252.1 553.4 253.8 552.9 255.8 552.4 254.3 551.9 255.2 551.4 254.9 550.9 255.1 550.4 256.2 549.9 256.7 549.4 257.3 548.9 258 548.4 263.3 547.9 260.4 547.4 260.1 546.9 262.3 546.4 262.2 545.9 263.3 545.4 263.8 544.9 264.5 544.4 269.6 543.9 266.7 543.4 271.9 542.9 268.1 542.4 270.6 541.9 270.2 541.4 271.3 540.9 272 540.4 274.1 539.9 274.7 539.4 275.8 538.9 277.7 538.4 277.9 537.9 279.8 537.4 282 536.9 287.5 536.4 281.7 535.9 283.3 535.4 286.4 534.9 289.7 534.4 287.2 533.9 287.7 533.4 287.6 532.9 289.3 532.4 294.4 531.9 294.1 531.4 292.2 530.9 295.3 530.4 296.9 529.9 295.1 529.4 296.2 528.9 297.3 528.4 298.2 527.9 299.8 527.4 307.8 526.9 301.8 526.4 302.5 525.9 309.2 525.4 304.4 524.9 305.9 524.4 313.3 523.9 314 523.4 310.2 522.9 310 522.4 311.8 521.9 312.8 521.4 313.8 520.9 315.1 520.4 319.5 519.9 316 519.4 317.3 518.9 320.7 518.4 320 517.9 320.4 517.4 321.9 516.9 326.3 516.4 324.7 515.9 329.9 515.4 329.2 514.9 331.5 514.4 326.3 513.9 328.1 513.4 327.9 512.9 328.8 512.4 332 511.9 330.8 511.4 332.1 510.9 332 510.4 333.3 509.9 333.2 509.4 337.9 508.9 334.6 508.4 335 507.9 336.7 507.4 336.1 506.9 337.1 506.4 339.3 505.9 337.7 505.4 338.5 504.9 338.2 504.4 338.2 503.9 338.7 503.4 338.9 502.9 339.5 502.4 341.2 501.9 339 501.4 339.6 500.9 341.8 500.4 338.9 499.9 340.6 499.4 342.4 498.9 338.8 498.4 338.1 497.9 339.3 497.4 337.9 496.9 337.5 496.4 336.8 495.9 338.3 495.4 336.3 494.9 337.5 494.4 335.5 493.9 339.5 493.4 336.5 492.9 333.6 492.4 332.4 491.9 331.7 491.4 331.8 490.9 330.7 490.4 330.6 489.9 334.5 489.4 328.2 488.9 326.8 488.4 327.8 487.9 328.3 487.4 324.4 486.9 323.6 486.4 322.8 485.9 324 485.4 321.4 484.9 321 484.4 318.7 483.9 319.8 483.4 317.8 482.9 321.6 482.4 315.5 481.9 313.8 481.4 313.3 480.9 311.7 480.4 312.2 479.9 309.3 479.4 308.7 478.9 309.1 478.4 306.6 477.9 305.4 477.4 305 476.9 303.3 476.4 302.3 475.9 301.2 475.4 301.6 474.9 300 474.4 301.4 473.9 296.9 473.4 297.6 472.9 295.3 472.4 294.1 471.9 292.5 471.4 293.1 470.9 295.4 470.4 294.3 469.9 291.2 469.4 288.2 468.9 286.4 468.4 287.1 467.9 284.7 467.4 284 466.9 289 466.4 286.5 465.9 280.3 465.4 278.9 464.9 279 464.4 276.9 463.9 277.9 463.4 274.9 462.9 275.9 462.4 272.6 461.9 271.7 461.4 271 460.9 269.7 460.4 268.8 459.9 267.9 459.4 267.1 458.9 269.6 458.4 265.2 457.9 268.4 457.4 263.8 456.9 266.5 456.4 261.3 455.9 261.1 455.4 262.7 454.9 259.3 454.4 259.7 453.9 257.7 453.4 259.1 452.9 258.7 452.4 256.8 451.9 256 451.4 254.5 450.9 253.7 450.4 254 449.9 255.6 449.4 253.6 448.9 251.8 448.4 254.5 447.9 251.1 447.4 252 446.9 250.5 446.4 250.4 445.9 254.8 445.4 250.3 444.9 251.8 444.4 249.9 443.9 253.7 443.4 250 442.9 250.2 442.4 250.8 441.9 251.3 441.4 251.9 440.9 250.8 440.4 257 439.9 251.4 439.4 252.8 438.9 256.6 438.4 253.3 437.9 253.1 437.4 256 436.9 254.6 436.4 256.8 435.9 256.8 435.4 258.9 434.9 256.9 434.4 258.2 433.9 259.1 433.4 259.3 432.9 259.6 432.4 261 431.9 261.7 431.4 264.3 430.9 263.9 430.4 263.9 429.9 266.9 429.4 265.8 428.9 267 428.4 267.7 427.9 272.4 427.4 271.9 426.9 270.9 426.4 271.9 425.9 275.4 425.4 276.8 424.9 278.3 424.4 275.7 423.9 278.9 423.4 278.8 422.9 279 422.4 280.1 421.9 281 421.4 282.1 420.9 283.1 420.4 284 419.9 288 419.4 288.9 418.9 288 418.4 289.5 417.9 292 417.4 291.6 416.9 292.1 416.4 296.9 415.9 295.6 415.4 294.6 414.9 296.3 414.4 299.4 413.9 298.1 413.4 300.3 412.9 300.1 412.4 301.8 411.9 307 411.4 305.1 410.9 304.8 410.4 305.5 409.9 307.3 409.4 308.8 408.9 308.3 408.4 309.8 407.9 312 407.4 311.5 406.9 313.3 406.4 317.1 405.9 314.5 405.4 316.8 404.9 318.1 404.4 318.1 403.9 318.4 403.4 319.8 402.9 321.9 402.4 323 401.9 324.1 401.4 325.7 400.9 324.8 400.4 324.8 399.9 329.7 399.4 328.6 398.9 328.6 398.4 328.4 397.9 329.9 397.4 330.8 396.9 330.9 396.4 332.6 395.9 332.7 395.4 333 394.9 335.6 394.4 334.3 393.9 341.8 393.4 336.2 392.9 339 392.4 337.2 391.9 337 391.4 338.6 390.9 338.1 390.4 344.1 389.9 338 389.4 338.3 388.9 339.2 388.4 340.7 387.9 342 387.4 341.8 386.9 340.9 386.4 339.3 385.9 340.1 385.4 338.9 384.9 339 384.4 344.6 383.9 344.5 383.4 338.1 382.9 338.9 382.4 337.9 381.9 337 381.4 337.1 380.9 336.1 380.4 336.7 379.9 339.8 379.4 334.7 378.9 336.5 378.4 335.6 377.9 332.6 377.4 332.5 376.9 332 376.4 330.8 375.9 329.8 375.4 329.8 374.9 328.5 374.4 333.9 373.9 328.5 373.4 332.2 372.9 324.8 372.4 323.8 371.9 323.5 371.4 322.8 370.9 324.6 370.4 320.3 369.9 319.1 369.4 319.3 368.9 317.1 368.4 316.1 367.9 317.1 367.4 314.1 366.9 313.7 366.4 314.3 365.9 312.8 365.4 310.3 364.9 309.3 364.4 309 363.9 307.1 363.4 307.1 362.9 304.9 362.4 304 361.9 303.1 361.4 302.6 360.9 303.3 360.4 305 359.9 298.4 359.4 299.1 358.9 299.6 358.4 295.3 357.9 294.2 357.4 293.1 356.9 293 356.4 294.8 355.9 289.9 355.4 289.2 354.9 288.1 354.4 287 353.9 288.7 353.4 285.6 352.9 283.6 352.4 288.9 351.9 282.2 351.4 283.4 350.9 279.7 350.4 280.4 349.9 277.4 349.4 277.2 348.9 275.9 348.4 274.8 347.9 273.3 347.4 272.7 346.9 271.3 346.4 270.5 345.9 270.6 345.4 269.7 344.9 270.3 344.4 266.4 343.9 266.3 343.4 264.6 342.9 267.9 342.4 268.3 341.9 262.6 341.4 261.9 340.9 260.5 340.4 259.5 339.9 261.2 339.4 259.1 338.9 257.3 338.4 259.8 337.9 256.1 337.4 255.6 336.9 254.6 336.4 254.2 335.9 254.9 335.4 253.3 334.9 253 334.4 252.3 333.9 251.9 333.4 251.5 332.9 251 332.4 250.8 331.9 250.4 331.4 251.9 330.9 250.8 330.4 250.7 329.9 250 329.4 251.5 328.9 249.9 328.4 250.6 327.9 250.2 327.4 250.4 326.9 250.6 326.4 251 325.9 256.4 325.4 251.5 324.9 251.8 324.4 251.9 323.9 254.1 323.4 253.4 322.9 253.3 322.4 254.9 321.9 254.4 321.4 255.2 320.9 256.7 320.4 256.9 319.9 258.1 319.4 258.3 318.9 259.4 318.4 259.4 317.9 260.4 317.4 261.9 316.9 262.3 316.4 263.7 315.9 263.3 315.4 266.7 314.9 265.3 314.4 266.4 313.9 267.1 313.4 268.1 312.9 273.3 312.4 273.9 311.9 271.7 311.4 272.1 310.9 275.4 310.4 279.3 309.9 275.2 309.4 276.3 308.9 277.6 308.4 279 307.9 284.1 307.4 280 306.9 283.5 306.4 286.7 305.9 286.1 305.4 284.4 304.9 285.3 304.4 286.5 303.9 288.4 303.4 292.9 302.9 289.9 302.4 292.2 301.9 292 301.4 298 300.9 294.4 300.4 294.9 299.9 297.6 299.4 299.9 298.9 302.3 298.4 299.8 297.9 300.4 297.4 302.3 296.9 303.7 296.4 303.8 295.9 304.7 295.4 305.3 294.9 306.8 294.4 311.2 293.9 312.3 293.4 309.4 292.9 311.7 292.4 311.8 291.9 317.3 291.4 315.3 290.9 318.1 290.4 315.9 289.9 316.9 289.4 317.9 288.9 320.5 288.4 319.6 287.9 324.5 287.4 322.1 286.9 325.5 286.4 328 285.9 326.9 285.4 325.7 284.9 326.9 284.4 327.1 283.9 328.2 283.4 329.9 282.9 332.7 282.4 338.5 281.9 333.8 281.4 332.8 280.9 332.7 280.4 333 279.9 333.8 279.4 339.3 278.9 335.1 278.4 338.3 277.9 339 277.4 337 276.9 336.8 276.4 337.2 275.9 337.8 275.4 343.5 274.9 338.1 274.4 339.7 273.9 340.4 273.4 339.2 272.9 346.1 272.4 339.3 271.9 341.8 271.4 341.7 270.9 341.7 270.4 338.8 269.9 338.6 269.4 338.9 268.9 338.2 268.4 339.3 267.9 338.6 267.4 337.4 266.9 343 266.4 339.3 265.9 336.2 265.4 335.7 264.9 336.9 264.4 334.3 263.9 335.6 263.4 333.8 262.9 337.4 262.4 331.7 261.9 332 261.4 330.6 260.9 333.9 260.4 328.8 259.9 327.8 259.4 327.1 258.9 327.8 258.4 325.4 257.9 324.7 257.4 323.9 256.9 322.9 256.4 321.5 255.9 324.2 255.4 320.2 254.9 319 254.4 318.5 253.9 320.8 253.4 315.7 252.9 315.6 252.4 313.8 251.9 312.6 251.4 315.3 250.9 310.7 250.4 310.7 249.9 308.5 249.4 310.1 248.9 309.3 248.4 305.6 247.9 306.1 247.4 305.9 246.9 303.4 246.4 301.8 245.9 303.3 245.4 299.6 244.9 301.9 244.4 298.4 243.9 300.9 243.4 296.6 242.9 293.9 242.4 293.3 241.9 291.6 241.4 291 240.9 290.1 240.4 288.7 239.9 288.3 239.4 287.5 238.9 287.2 238.4 289.1 237.9 283.2 237.4 282.4 236.9 281.7 236.4 283.7 235.9 280.2 235.4 281.7 234.9 277.7 234.4 276.8 233.9 275.4 233.4 274.8 232.9 273.3 232.4 273.3 231.9 273 231.4 272.8 230.9 270.7 230.4 268 229.9 267.2 229.4 266.1 228.9 270.4 228.4 264.3 227.9 263.5 227.4 264.4 226.9 262.4 226.4 261 225.9 261.6 225.4 262.7 224.9 258.5 224.4 257.7 223.9 257.1 223.4 256.5 222.9 261.1 222.4 255 221.9 255.7 221.4 257.4 220.9 254 220.4 252.9 219.9 253.3 219.4 252.2 218.9 252.9 218.4 255.5 217.9 251.2 217.4 251 216.9 251 216.4 251.3 215.9 252.2 215.4 250.4 214.9 253 214.4 250.3 213.9 252.8 213.4 250.2 212.9 250.1 212.4 251.5 211.9 253.4 211.4 250.6 210.9 251 210.4 255.4 209.9 252.2 209.4 252.5 208.9 257.7 208.4 252.9 207.9 254.4 207.4 256 206.9 255.8 206.4 255.7 205.9 256.5 205.4 259.4 204.9 258.2 204.4 260.6 203.9 258.8 203.4 260.5 202.9 260.6 202.4 261 201.9 262.2 201.4 263.8 200.9 264.2 200.4 265.8 199.9 265.6 199.4 266.8 198.9 267.6 198.4 275.3 197.9 269.8 197.4 270.4 196.9 274.3 196.4 272.6 195.9 273.8 195.4 274.7 194.9 276.1 194.4 277.4 193.9 282.3 193.4 279.6 192.9 281.2 192.4 281 191.9 281.8 191.4 283.7 190.9 285.7 190.4 285.6 189.9 287.8 189.4 287.9 188.9 290.8 188.4 289.1 187.9 290.1 187.4 291 186.9 293 186.4 293.2 185.9 295.5 185.4 295.2 184.9 296.5 184.4 299.3 183.9 298.9 183.4 300.4 182.9 301.1 182.4 307.4 181.9 305 181.4 304.3 180.9 304.9 180.4 311.6 179.9 306.8 179.4 309.5 178.9 313.1 178.4 315.5 177.9 314 177.4 312.1 176.9 314.5 176.4 314.1 175.9 315.7 175.4 321.2 174.9 317.8 174.4 318 173.9 319.3 173.4 320.6 172.9 322.1 172.4 324 171.9 323.2 171.4 326.8 170.9 325.8 170.4 326 169.9 327.7 169.4 327.8 168.9 328.4 168.4 332.5 167.9 331.6 167.4 333.5 166.9 332.8 166.4 334.2 165.9 335.5 165.4 333.5 164.9 336.7 164.4 336.4 163.9 335.5 163.4 338.8 162.9 342.4 162.4 341.8 161.9 337.4 161.4 337.5 160.9 337.7 160.4 339.9 159.9 338.6 159.4 338.9 158.9 339.6 158.4 341.6 157.9 339.9 157.4 341.6 156.9 338.8 156.4 339.3 155.9 338.7 155.4 338.9 154.9 338.7 154.4 338.9 153.9 339.4 153.4 338.3 152.9 337.8 152.4 338.7 151.9 342.3 151.4 336.8 150.9 336.7 150.4 336.1 149.9 334.8 149.4 334 148.9 334.8 148.4 333.3 147.9 334.5 147.4 331.7 146.9 330.6 146.4 332.3 145.9 329.2 145.4 329.3 144.9 328.4 144.4 327.4 143.9 326.5 143.4 327.8 142.9 325.4 142.4 323.2 141.9 323.3 141.4 321.8 140.9 320.5 140.4 319.2 139.9 318.9 139.4 317.5 138.9 316.9 138.4 315.9 137.9 314.5 137.4 313.6 136.9 320.2 136.4 311.4 135.9 311.6 135.4 309.1 134.9 312.5 134.4 308.3 133.9 311.9 133.4 306 132.9 304.7 132.4 303.9 131.9 302.3 131.4 302 130.9 300.6 130.4 299.5 129.9 303.7 129.4 301.6 128.9 295.6 128.4 295.6 127.9 293.3 127.4 293 126.9 291.9 126.4 290.5 125.9 290.9 125.4 290.5 124.9 292.1 124.4 286.8 123.9 284.9 123.4 289.6 122.9 283.1 122.4 281.8 121.9 280.7 121.4 282.1 120.9 279.8 120.4 282.5 119.9 278.3 119.4 276.1 118.9 275.1 118.4 273.7 117.9 272.8 117.4 271.4 116.9 272.6 116.4 269.4 115.9 268.7 115.4 268.9 114.9 267 114.4 266.2 113.9 266.4 113.4 264.6 112.9 263.7 112.4 263.6 111.9 261.9 111.4 260.8 110.9 260 110.4 261.7 109.9 260.3 109.4 258.2 108.9 256.7 108.4 256.2 107.9 256.4 107.4 255.9 106.9 257.8 106.4 256.7 105.9 253.2 105.4 254.7 104.9 253 104.4 254.6 103.9 251.3 103.4 251.6 102.9 253.7 102.4 254.6 101.9 250.3 101.4 251.3 100.9 250.1 100.4 250 99.9 250.1 99.4 249.9 98.9 250.4 98.4 252.3 97.9 251.8 97.4 250.5 96.9 250.7 96.4 250.7 95.9 251.2 95.4 252.3 94.9 251.8 94.4 252.1 93.9 252.6 93.4 255.7 92.9 255.5 92.4 255.1 91.9 255 91.4 255.7 90.9 257.1 90.4 256.8 89.9 257.5 89.4 258.4 88.9 259.2 88.4 260.2 87.9 260.9 87.4 262.8 86.9 262.6 86.4 263.2 85.9 265.1 85.4 265.1 84.9 266.5 84.4 267.8 83.9 269.2 83.4 273.9 82.9 270.2 82.4 276 81.9 274.5 81.4 272.7 80.9 273.9 80.4 275 79.9 276.7 79.4 277.1 78.9 278.4 78.4 279.8 77.9 279.8 77.4 281.9 76.9 282.7 76.4 284.3 75.9 284.9 75.4 286.1 74.9 286.7 74.4 289.1 73.9 290.1 73.4 289.7 72.9 294.1 72.4 294.4 71.9 292.8 71.4 294.9 70.9 295 70.4 295.8 69.9 296.7 69.4 298 68.9 298.8 68.4 301.8 67.9 301.5 67.4 303 66.9 303.3 66.4 305.8 65.9 305.4 65.4 307 64.9 307.2 64.4 308.5 63.9 311.9 63.4 310.9 62.9 313 62.4 312.8 61.9 315.6 61.4 315 60.9 315.5 60.4 317.7 59.9 317.5 59.4 319.2 58.9 322.4 58.4 321 57.9 323.3 57.4 323 56.9 323.6 56.4 326.6 55.9 326 55.4 326.6 54.9 328.1 54.4 328.3 53.9 328.8 53.4 332.8 52.9 331.8 52.4 330.8 51.9 331.7 51.4 332.6 50.9 333.3 50.4 333.6 49.9 339.4 49.4 339.7 48.9 335.8 48.4 335.9 47.9 337 47.4 336.8 46.9 337.7 46.4 337.6 45.9 338.3 45.4 339.6 44.9 338.5 44.4 340.3 43.9 341.6 43.4 341.5 42.9 342.7 42.4 339 41.9 339.7 41.4 339.9 40.9 344 40.4 338.7 39.9 341.3 39.4 338.1 38.9 337.9 38.4 337.6 37.9 339.9 37.4 342.6 36.9 336.6 36.4 340.7 35.9 335.5 35.4 335.6 34.9 335 34.4 333.8 33.9 333.7 33.4 333 32.9 337.3 32.4 333.4 31.9 330.5 31.4 330.6 30.9 332.6 30.4 330.9 29.9 329.4 29.4 326.4 28.9 327 28.4 326.2 27.9 323.8 27.4 323.7 26.9 321.7 26.4 325.1 25.9 320.1 25.4 321.8 24.9 319.6 24.4 317.8 23.9 318.5 23.4 317.8 22.9 320.3 22.4 312.8 21.9 314 21.4 314.3 20.9 309.7 20.4 312.4 19.9 309.5 19.4 306.7 18.9 306.5 18.4 305.7 17.9 307.1 17.4 303.4 16.9 307 16.4 300.3" fill="#adaa00" stroke="#adaa00" stroke-width="0.8" stroke-linejoin="round"/>
</g>
<text x="7.2" y="92.6" font-size="7" fill="#6e6b00" stroke="#6e6b00" stroke-width="0.3" textLength="7.8" lengthAdjust="spacingAndGlyphs">M1</text><path d="M9.2 95.8H16.8" stroke="#6e6b00" stroke-width="1.5"/>
<text x="7.0" y="182.6" font-size="7" fill="#ae0000" stroke="#ae0000" stroke-width="0.3" textLength="8.2" lengthAdjust="spacingAndGlyphs">M2</text><path d="M9.2 185.9H16.8" stroke="#ae0000" stroke-width="1.5"/>
<text x="7.5" y="282.6" font-size="7" fill="#adaa00" stroke="#adaa00" stroke-width="0.3" textLength="7.4" lengthAdjust="spacingAndGlyphs">C1</text><path d="M9.2 285.4H16.8" stroke="#adaa00" stroke-width="1.5"/>
<polygon points="303.8,367.6 301,372.8 306.6,372.8" fill="#adaa00"/>
<polygon points="590.8,263.5 596.8,261 596.8,266.2" fill="#adaa00"/>
<text x="278.6" y="60.8" font-size="7.8" fill="#111" textLength="13.6" lengthAdjust="spacingAndGlyphs">CH1</text><path d="M278.6 62.8H294.6M286.7 63L303.7 73.7" stroke="#1a1a1a" stroke-width="1" fill="none"/>
<text x="279.2" y="173" font-size="7.8" fill="#111" textLength="14.2" lengthAdjust="spacingAndGlyphs">CH2</text><path d="M279.2 174.8H294M288 175L304 185.7" stroke="#1a1a1a" stroke-width="1" fill="none"/>
<text x="258" y="251.1" font-size="7.8" fill="#111" textLength="33.8" lengthAdjust="spacingAndGlyphs">CH1+CH2</text><path d="M258 253.2H293M278.7 253.5L303.7 260" stroke="#1a1a1a" stroke-width="1" fill="none"/>
</svg>
<div class="p" id="c1"><span class="bd" style="background:#d6d200;left:1.1px;top:1px;width:13.2px;font-size:9.2px;letter-spacing:-0.4px">C1</span><span class="k" style="left:45.2px;top:1.8px;width:23.8px;color:#d6d200;font-size:7.4px">DC1M</span><span class="r t2">1.00 V/div</span><span class="r t3">-2.200 V ofst</span></div>
<div class="p" id="m1"><span class="bd" style="background:#8a8600;left:0.2px;top:0px;width:15px">M1</span><span class="r t2">1.00 V/div</span><span class="r t3">500 µs/div</span></div>
<div class="p" id="m2"><span class="bd" style="background:#cc0000;left:0.3px;top:0px;width:14.8px;color:#2a0000">M2</span><span class="r t2">1.00 V/div</span><span class="r t3">500 µs/div</span></div>
<div class="p q" id="tb"><div class="hd"></div><span class="l t1 d" style="left:2px">Timebase</span><span class="t1 d" style="right:0.8px">0.00 ms</span><span class="r t2">500 µs/div</span><span class="l t3" style="left:2px">1.00 MS</span><span class="t3" style="right:1.4px">200 MS/s</span></div>
<div class="p q" id="tr"><div class="hd"></div><span class="l t1 d" style="left:1.6px">Trigger</span><span class="k" style="left:41.3px;width:12.4px">C1</span><span class="k" style="left:54.7px;width:13.9px">DC</span><span class="l t2" style="left:1.4px">Stop</span><span class="r t2">490 mV</span><span class="l t3" style="left:1.4px">Edge</span><span class="r t3">Positive</span></div>
</body></html>
